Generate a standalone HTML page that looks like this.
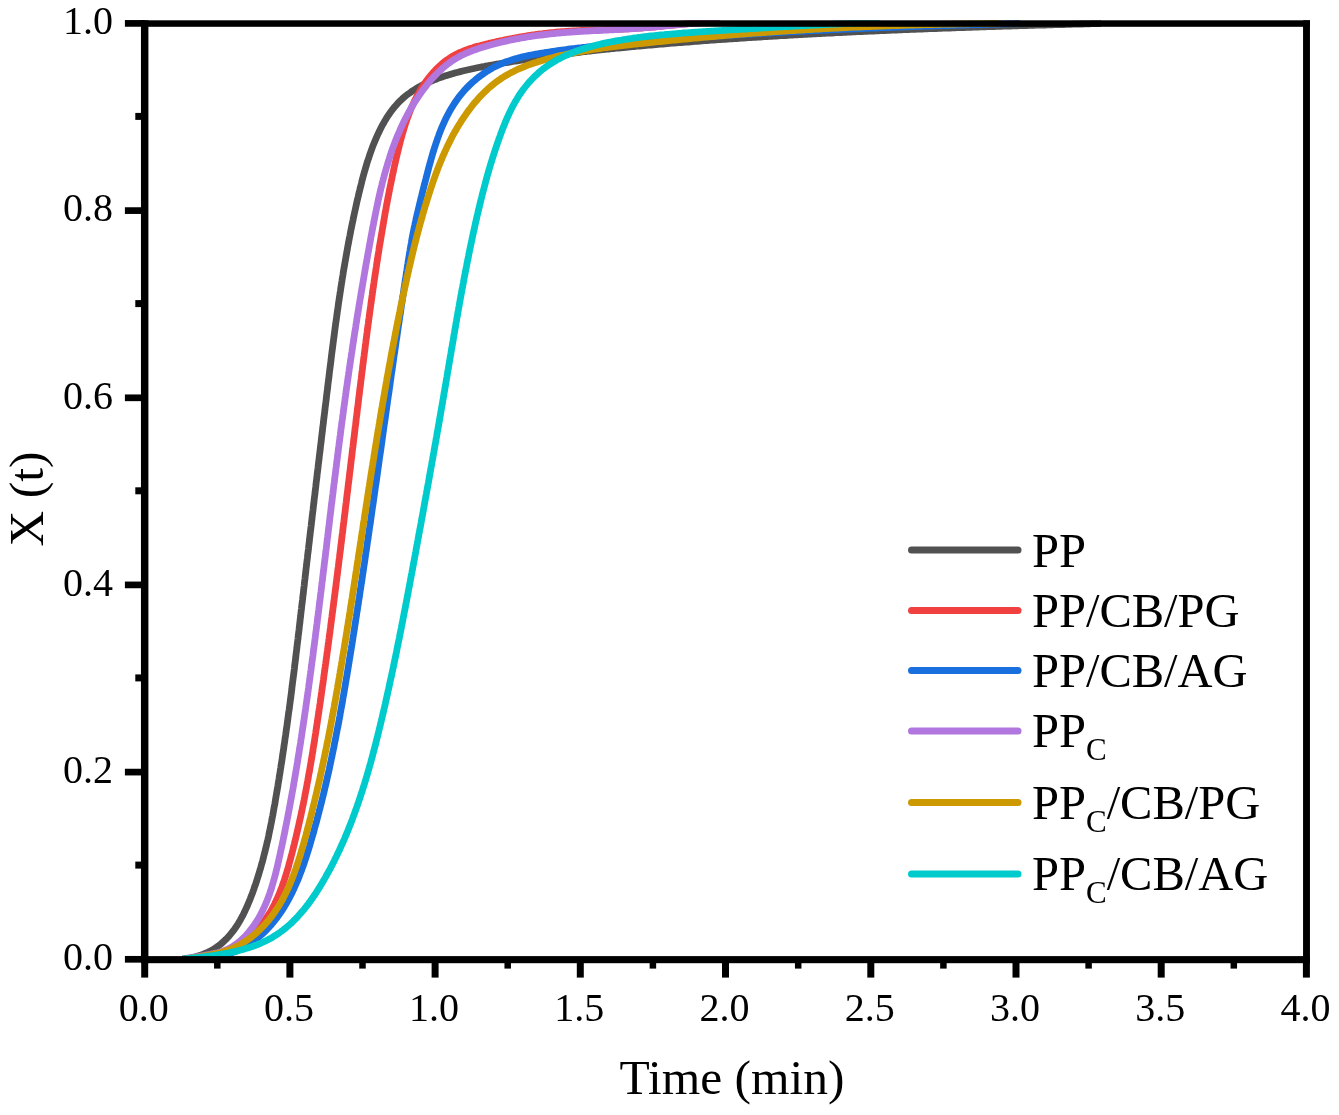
<!DOCTYPE html>
<html><head><meta charset="utf-8"><title>X(t) vs Time</title>
<style>
html,body{margin:0;padding:0;background:#fff;}
body{width:1339px;height:1115px;overflow:hidden;}
svg{display:block;}
text{font-family:"Liberation Serif","Times New Roman",serif;fill:#000;}
.tk{font-size:40px;}
.lg{font-size:48.5px;}
.sb{font-size:31px;}
.al{font-size:49.5px;}
</style></head><body>
<svg width="1339" height="1115" viewBox="0 0 1339 1115">
<rect width="1339" height="1115" fill="#fff"/>
<defs><clipPath id="plotclip"><rect x="140.95" y="20.3" width="1169" height="942.9"/></clipPath></defs>
<g id="curves" clip-path="url(#plotclip)">
<path d="M182.3 958.9 L185.1 958.6 L187.9 958.2 L190.5 957.8 L193.1 957.3 L195.6 956.7 L198.0 956.0 L200.4 955.3 L202.7 954.4 L205.0 953.5 L207.1 952.6 L209.3 951.5 L211.3 950.5 L213.3 949.3 L215.2 948.1 L217.1 946.8 L218.9 945.5 L220.7 944.1 L222.4 942.6 L224.1 941.1 L225.7 939.6 L227.2 938.0 L228.8 936.3 L230.2 934.6 L231.6 932.9 L233.0 931.1 L234.4 929.3 L235.7 927.5 L236.9 925.6 L238.1 923.7 L239.3 921.7 L240.5 919.7 L241.6 917.7 L242.7 915.7 L243.7 913.6 L244.7 911.5 L245.7 909.4 L246.7 907.3 L247.6 905.2 L248.5 903.0 L249.4 900.9 L250.3 898.7 L251.1 896.5 L252.0 894.3 L252.8 892.1 L253.6 889.9 L254.3 887.7 L255.1 885.5 L255.9 883.3 L256.6 881.0 L257.3 878.8 L258.0 876.6 L258.7 874.4 L259.4 872.1 L260.0 869.9 L260.7 867.7 L261.3 865.4 L261.9 863.2 L262.6 860.9 L263.2 858.7 L263.7 856.4 L264.3 854.2 L264.9 851.9 L265.4 849.7 L266.0 847.4 L266.5 845.2 L267.0 842.9 L267.6 840.6 L268.1 838.4 L268.6 836.1 L269.0 833.8 L269.5 831.5 L270.0 829.3 L270.5 827.0 L270.9 824.7 L271.4 822.4 L271.8 820.2 L272.2 817.9 L272.7 815.6 L273.1 813.3 L273.5 811.0 L273.9 808.7 L274.3 806.5 L274.8 804.2 L275.2 801.9 L275.5 799.6 L275.9 797.3 L276.3 795.0 L276.7 792.7 L277.1 790.4 L277.5 788.1 L277.9 785.8 L278.2 783.5 L278.6 781.3 L279.0 779.0 L279.3 776.7 L279.7 774.4 L280.1 772.1 L280.4 769.8 L280.8 767.5 L281.1 765.2 L281.5 762.9 L281.9 760.6 L282.2 758.3 L282.5 756.0 L282.9 753.7 L283.2 751.4 L283.6 749.1 L283.9 746.8 L284.2 744.5 L284.6 742.2 L284.9 739.9 L285.2 737.6 L285.6 735.3 L285.9 733.0 L286.2 730.7 L286.5 728.4 L286.9 726.1 L287.2 723.8 L287.5 721.5 L287.8 719.2 L288.1 716.9 L288.4 714.6 L288.7 712.3 L289.1 710.0 L289.4 707.7 L289.7 705.4 L290.0 703.1 L290.3 700.8 L290.6 698.5 L290.9 696.2 L291.2 693.9 L291.5 691.6 L291.8 689.3 L292.0 687.0 L292.3 684.7 L292.6 682.4 L292.9 680.1 L293.2 677.8 L293.5 675.5 L293.8 673.2 L294.1 670.9 L294.4 668.6 L294.6 666.3 L294.9 664.0 L295.2 661.7 L295.5 659.4 L295.8 657.0 L296.0 654.7 L296.3 652.4 L296.6 650.1 L296.9 647.8 L297.1 645.5 L297.4 643.2 L297.7 640.9 L298.0 638.6 L298.2 636.3 L298.5 634.0 L298.8 631.7 L299.1 629.4 L299.3 627.1 L299.6 624.8 L299.9 622.5 L300.1 620.2 L300.4 617.8 L300.7 615.5 L300.9 613.2 L301.2 610.9 L301.5 608.6 L301.7 606.3 L302.0 604.0 L302.3 601.7 L302.6 599.4 L302.8 597.1 L303.1 594.8 L303.4 592.5 L303.6 590.2 L303.9 587.9 L304.2 585.6 L304.4 583.2 L304.7 580.9 L305.0 578.6 L305.2 576.3 L305.5 574.0 L305.8 571.7 L306.0 569.4 L306.3 567.1 L306.6 564.8 L306.8 562.5 L307.1 560.2 L307.4 557.9 L307.6 555.6 L307.9 553.3 L308.2 551.0 L308.5 548.6 L308.7 546.3 L309.0 544.0 L309.3 541.7 L309.5 539.4 L309.8 537.1 L310.1 534.8 L310.3 532.5 L310.6 530.2 L310.9 527.9 L311.2 525.6 L311.4 523.3 L311.7 521.0 L312.0 518.7 L312.2 516.4 L312.5 514.1 L312.8 511.7 L313.1 509.4 L313.3 507.1 L313.6 504.8 L313.9 502.5 L314.1 500.2 L314.4 497.9 L314.7 495.6 L315.0 493.3 L315.2 491.0 L315.5 488.7 L315.8 486.4 L316.0 484.1 L316.3 481.8 L316.6 479.5 L316.9 477.2 L317.1 474.9 L317.4 472.5 L317.7 470.2 L318.0 467.9 L318.2 465.6 L318.5 463.3 L318.8 461.0 L319.1 458.7 L319.3 456.4 L319.6 454.1 L319.9 451.8 L320.2 449.5 L320.4 447.2 L320.7 444.9 L321.0 442.6 L321.3 440.3 L321.5 438.0 L321.8 435.6 L322.1 433.3 L322.4 431.0 L322.6 428.7 L322.9 426.4 L323.2 424.1 L323.5 421.8 L323.7 419.5 L324.0 417.2 L324.3 414.9 L324.6 412.6 L324.9 410.3 L325.1 408.0 L325.4 405.7 L325.7 403.4 L326.0 401.1 L326.3 398.8 L326.5 396.4 L326.8 394.1 L327.1 391.8 L327.4 389.5 L327.7 387.2 L327.9 384.9 L328.2 382.6 L328.5 380.3 L328.8 378.0 L329.1 375.7 L329.3 373.4 L329.6 371.1 L329.9 368.8 L330.2 366.5 L330.5 364.2 L330.8 361.9 L331.1 359.5 L331.3 357.2 L331.6 354.9 L331.9 352.6 L332.2 350.3 L332.5 348.0 L332.8 345.7 L333.1 343.4 L333.4 341.1 L333.7 338.8 L334.0 336.5 L334.3 334.2 L334.6 331.9 L334.9 329.6 L335.2 327.3 L335.5 325.0 L335.8 322.7 L336.2 320.4 L336.5 318.1 L336.8 315.8 L337.1 313.5 L337.4 311.2 L337.8 308.9 L338.1 306.6 L338.4 304.3 L338.7 302.0 L339.1 299.7 L339.4 297.4 L339.8 295.1 L340.1 292.8 L340.5 290.5 L340.8 288.2 L341.2 285.9 L341.5 283.6 L341.9 281.3 L342.2 279.1 L342.6 276.8 L343.0 274.5 L343.3 272.2 L343.7 269.9 L344.1 267.6 L344.5 265.3 L344.9 263.0 L345.3 260.7 L345.7 258.5 L346.1 256.2 L346.5 253.9 L346.9 251.6 L347.3 249.3 L347.7 247.0 L348.1 244.8 L348.6 242.5 L349.0 240.2 L349.4 237.9 L349.9 235.6 L350.3 233.4 L350.7 231.1 L351.2 228.8 L351.7 226.5 L352.1 224.3 L352.6 222.0 L353.1 219.7 L353.5 217.4 L354.0 215.2 L354.5 212.9 L355.0 210.6 L355.5 208.4 L356.0 206.1 L356.5 203.8 L357.0 201.6 L357.5 199.3 L358.1 197.0 L358.6 194.8 L359.1 192.5 L359.7 190.3 L360.2 188.0 L360.8 185.8 L361.4 183.5 L361.9 181.2 L362.5 179.0 L363.1 176.7 L363.7 174.5 L364.3 172.3 L365.0 170.0 L365.6 167.8 L366.3 165.6 L366.9 163.3 L367.6 161.1 L368.4 158.9 L369.1 156.7 L369.8 154.5 L370.6 152.3 L371.4 150.1 L372.2 147.9 L373.0 145.7 L373.9 143.5 L374.8 141.4 L375.7 139.2 L376.6 137.1 L377.6 134.9 L378.6 132.8 L379.6 130.7 L380.6 128.6 L381.7 126.5 L382.8 124.4 L384.0 122.4 L385.1 120.4 L386.3 118.4 L387.6 116.4 L388.9 114.5 L390.2 112.6 L391.6 110.7 L393.0 108.9 L394.4 107.1 L395.9 105.4 L397.4 103.7 L399.0 102.0 L400.6 100.4 L402.2 98.9 L403.9 97.4 L405.7 95.9 L407.4 94.5 L409.3 93.2 L411.1 91.9 L413.0 90.6 L415.0 89.4 L416.9 88.2 L418.9 87.0 L420.9 85.9 L423.0 84.9 L425.1 83.9 L427.2 82.9 L429.3 81.9 L431.4 81.0 L433.6 80.1 L435.8 79.3 L437.9 78.4 L440.2 77.6 L442.4 76.9 L444.6 76.1 L446.8 75.4 L449.1 74.7 L451.3 74.1 L453.5 73.4 L455.8 72.8 L458.0 72.2 L460.3 71.6 L462.6 71.0 L464.8 70.5 L467.1 70.0 L469.4 69.5 L471.6 69.0 L473.9 68.5 L476.2 68.0 L478.5 67.5 L480.8 67.1 L483.0 66.7 L485.3 66.2 L487.6 65.8 L489.9 65.4 L492.2 65.0 L494.5 64.6 L496.8 64.2 L499.1 63.8 L501.4 63.4 L503.6 63.0 L505.9 62.6 L508.2 62.3 L510.5 61.9 L512.8 61.5 L515.1 61.2 L517.4 60.8 L519.7 60.4 L522.0 60.1 L524.3 59.7 L526.6 59.4 L528.9 59.0 L531.2 58.7 L533.5 58.4 L535.8 58.0 L538.1 57.7 L540.4 57.4 L542.7 57.0 L545.0 56.7 L547.3 56.4 L549.6 56.1 L551.9 55.8 L554.2 55.5 L556.5 55.2 L558.8 54.9 L561.1 54.6 L563.4 54.3 L565.7 54.0 L568.0 53.7 L570.3 53.4 L572.6 53.1 L574.9 52.8 L577.2 52.6 L579.5 52.3 L581.8 52.0 L584.1 51.7 L586.4 51.5 L588.7 51.2 L591.0 51.0 L593.3 50.7 L595.6 50.4 L597.9 50.2 L600.3 49.9 L602.6 49.7 L604.9 49.4 L607.2 49.2 L609.5 49.0 L611.8 48.7 L614.1 48.5 L616.4 48.2 L618.7 48.0 L621.0 47.8 L623.3 47.6 L625.6 47.3 L628.0 47.1 L630.3 46.9 L632.6 46.7 L634.9 46.5 L637.2 46.2 L639.5 46.0 L641.8 45.8 L644.1 45.6 L646.4 45.4 L648.8 45.2 L651.1 45.0 L653.4 44.8 L655.7 44.6 L658.0 44.4 L660.3 44.2 L662.6 44.0 L664.9 43.8 L667.3 43.6 L669.6 43.4 L671.9 43.2 L674.2 43.0 L676.5 42.9 L678.8 42.7 L681.1 42.5 L683.5 42.3 L685.8 42.1 L688.1 42.0 L690.4 41.8 L692.7 41.6 L695.0 41.4 L697.4 41.3 L699.7 41.1 L702.0 40.9 L704.3 40.7 L706.6 40.6 L708.9 40.4 L711.2 40.2 L713.6 40.1 L715.9 39.9 L718.2 39.7 L720.5 39.6 L722.8 39.4 L725.1 39.3 L727.5 39.1 L729.8 38.9 L732.1 38.8 L734.4 38.6 L736.7 38.5 L739.0 38.3 L741.4 38.2 L743.7 38.0 L746.0 37.9 L748.3 37.7 L750.6 37.6 L752.9 37.4 L755.3 37.3 L757.6 37.1 L759.9 37.0 L762.2 36.8 L764.5 36.7 L766.9 36.6 L769.2 36.4 L771.5 36.3 L773.8 36.1 L776.1 36.0 L778.4 35.9 L780.8 35.7 L783.1 35.6 L785.4 35.5 L787.7 35.3 L790.0 35.2 L792.4 35.1 L794.7 34.9 L797.0 34.8 L799.3 34.7 L801.6 34.5 L803.9 34.4 L806.3 34.3 L808.6 34.2 L810.9 34.0 L813.2 33.9 L815.5 33.8 L817.9 33.7 L820.2 33.6 L822.5 33.4 L824.8 33.3 L827.1 33.2 L829.5 33.1 L831.8 33.0 L834.1 32.8 L836.4 32.7 L838.7 32.6 L841.1 32.5 L843.4 32.4 L845.7 32.3 L848.0 32.2 L850.3 32.1 L852.7 31.9 L855.0 31.8 L857.3 31.7 L859.6 31.6 L861.9 31.5 L864.3 31.4 L866.6 31.3 L868.9 31.2 L871.2 31.1 L873.5 31.0 L875.9 30.9 L878.2 30.8 L880.5 30.7 L882.8 30.6 L885.1 30.5 L887.5 30.4 L889.8 30.3 L892.1 30.2 L894.4 30.1 L896.7 30.0 L899.1 29.9 L901.4 29.8 L903.7 29.7 L906.0 29.6 L908.3 29.5 L910.7 29.4 L913.0 29.4 L915.3 29.3 L917.6 29.2 L920.0 29.1 L922.3 29.0 L924.6 28.9 L926.9 28.8 L929.2 28.7 L931.6 28.6 L933.9 28.6 L936.2 28.5 L938.5 28.4 L940.8 28.3 L943.2 28.2 L945.5 28.1 L947.8 28.1 L950.1 28.0 L952.4 27.9 L954.8 27.8 L957.1 27.7 L959.4 27.6 L961.7 27.6 L964.1 27.5 L966.4 27.4 L968.7 27.3 L971.0 27.3 L973.3 27.2 L975.7 27.1 L978.0 27.0 L980.3 26.9 L982.6 26.9 L984.9 26.8 L987.3 26.7 L989.6 26.6 L991.9 26.6 L994.2 26.5 L996.5 26.4 L998.9 26.4 L1001.2 26.3 L1003.5 26.2 L1005.8 26.1 L1008.2 26.1 L1010.5 26.0 L1012.8 25.9 L1015.1 25.9 L1017.4 25.8 L1019.8 25.7 L1022.1 25.7 L1024.4 25.6 L1026.7 25.5 L1029.0 25.4 L1031.4 25.4 L1033.7 25.3 L1036.0 25.2 L1038.3 25.2 L1040.6 25.1 L1043.0 25.1 L1045.3 25.0 L1047.6 24.9 L1049.9 24.9 L1052.2 24.8 L1054.6 24.7 L1056.9 24.7 L1059.2 24.6 L1061.5 24.5 L1063.9 24.5 L1066.2 24.4 L1068.5 24.3 L1070.8 24.3 L1073.1 24.2 L1075.5 24.2 L1077.8 24.1 L1080.1 24.0 L1082.4 24.0 L1084.7 23.9 L1087.1 23.9 L1089.4 23.8 L1091.7 23.7 L1094.0 23.7 L1096.3 23.6 L1098.7 23.6 L1101.0 23.5" fill="none" stroke="#515151" stroke-width="6.8" stroke-linejoin="round" stroke-linecap="butt"/>
<path d="M184.0 959.4 L185.8 959.1 L187.5 958.8 L189.3 958.5 L191.1 958.2 L192.9 957.9 L194.6 957.7 L196.4 957.4 L198.2 957.1 L200.0 956.9 L201.8 956.6 L203.6 956.3 L205.4 956.1 L207.2 955.8 L208.9 955.4 L210.7 955.1 L212.5 954.8 L214.2 954.4 L216.0 954.0 L217.7 953.5 L219.5 953.1 L221.2 952.6 L222.9 952.0 L224.6 951.4 L226.3 950.8 L228.0 950.1 L229.6 949.4 L231.2 948.7 L232.9 947.9 L234.5 947.0 L236.1 946.2 L237.6 945.3 L239.2 944.3 L240.7 943.3 L242.2 942.3 L243.7 941.3 L245.2 940.2 L246.6 939.1 L248.1 938.0 L249.5 936.8 L250.8 935.6 L252.2 934.4 L253.5 933.1 L254.8 931.9 L256.1 930.6 L257.3 929.3 L258.5 927.9 L259.7 926.6 L260.9 925.2 L262.0 923.8 L263.1 922.4 L264.2 921.0 L265.2 919.6 L266.2 918.1 L267.2 916.7 L268.2 915.2 L269.2 913.7 L270.1 912.2 L271.0 910.7 L271.9 909.1 L272.7 907.6 L273.6 906.0 L274.4 904.4 L275.2 902.8 L275.9 901.2 L276.7 899.6 L277.4 898.0 L278.1 896.4 L278.8 894.7 L279.5 893.1 L280.2 891.4 L280.8 889.7 L281.5 888.0 L282.1 886.4 L282.7 884.7 L283.3 883.0 L283.9 881.3 L284.5 879.5 L285.0 877.8 L285.6 876.1 L286.1 874.4 L286.6 872.6 L287.2 870.9 L287.7 869.2 L288.2 867.4 L288.7 865.7 L289.1 863.9 L289.6 862.2 L290.1 860.4 L290.6 858.6 L291.0 856.9 L291.5 855.1 L292.0 853.4 L292.4 851.6 L292.9 849.9 L293.3 848.1 L293.7 846.3 L294.2 844.6 L294.6 842.8 L295.0 841.0 L295.5 839.3 L295.9 837.5 L296.3 835.8 L296.7 834.0 L297.1 832.2 L297.5 830.5 L297.9 828.7 L298.3 826.9 L298.7 825.2 L299.1 823.4 L299.5 821.6 L299.9 819.9 L300.3 818.1 L300.7 816.4 L301.1 814.6 L301.4 812.8 L301.8 811.0 L302.2 809.3 L302.5 807.5 L302.9 805.7 L303.3 804.0 L303.6 802.2 L304.0 800.4 L304.3 798.7 L304.7 796.9 L305.0 795.1 L305.3 793.4 L305.7 791.6 L306.0 789.8 L306.4 788.0 L306.7 786.3 L307.0 784.5 L307.3 782.7 L307.7 780.9 L308.0 779.2 L308.3 777.4 L308.6 775.6 L308.9 773.8 L309.3 772.1 L309.6 770.3 L309.9 768.5 L310.2 766.7 L310.5 765.0 L310.8 763.2 L311.1 761.4 L311.4 759.6 L311.7 757.9 L312.0 756.1 L312.3 754.3 L312.6 752.5 L312.9 750.8 L313.1 749.0 L313.4 747.2 L313.7 745.4 L314.0 743.6 L314.3 741.9 L314.6 740.1 L314.8 738.3 L315.1 736.5 L315.4 734.7 L315.7 733.0 L315.9 731.2 L316.2 729.4 L316.5 727.6 L316.7 725.8 L317.0 724.1 L317.3 722.3 L317.5 720.5 L317.8 718.7 L318.1 716.9 L318.3 715.2 L318.6 713.4 L318.9 711.6 L319.1 709.8 L319.4 708.0 L319.6 706.3 L319.9 704.5 L320.2 702.7 L320.4 700.9 L320.7 699.1 L320.9 697.3 L321.2 695.6 L321.4 693.8 L321.7 692.0 L321.9 690.2 L322.2 688.4 L322.4 686.6 L322.7 684.9 L323.0 683.1 L323.2 681.3 L323.5 679.5 L323.7 677.7 L323.9 675.9 L324.2 674.2 L324.4 672.4 L324.7 670.6 L324.9 668.8 L325.2 667.0 L325.4 665.2 L325.7 663.5 L325.9 661.7 L326.2 659.9 L326.4 658.1 L326.7 656.3 L326.9 654.5 L327.1 652.7 L327.4 651.0 L327.6 649.2 L327.9 647.4 L328.1 645.6 L328.3 643.8 L328.6 642.0 L328.8 640.2 L329.1 638.5 L329.3 636.7 L329.5 634.9 L329.8 633.1 L330.0 631.3 L330.2 629.5 L330.5 627.7 L330.7 626.0 L330.9 624.2 L331.2 622.4 L331.4 620.6 L331.6 618.8 L331.9 617.0 L332.1 615.2 L332.3 613.4 L332.6 611.7 L332.8 609.9 L333.0 608.1 L333.3 606.3 L333.5 604.5 L333.7 602.7 L334.0 600.9 L334.2 599.1 L334.4 597.4 L334.6 595.6 L334.9 593.8 L335.1 592.0 L335.3 590.2 L335.6 588.4 L335.8 586.6 L336.0 584.8 L336.2 583.1 L336.5 581.3 L336.7 579.5 L336.9 577.7 L337.1 575.9 L337.4 574.1 L337.6 572.3 L337.8 570.5 L338.0 568.7 L338.3 567.0 L338.5 565.2 L338.7 563.4 L338.9 561.6 L339.1 559.8 L339.4 558.0 L339.6 556.2 L339.8 554.4 L340.0 552.6 L340.3 550.9 L340.5 549.1 L340.7 547.3 L340.9 545.5 L341.1 543.7 L341.4 541.9 L341.6 540.1 L341.8 538.3 L342.0 536.5 L342.2 534.8 L342.5 533.0 L342.7 531.2 L342.9 529.4 L343.1 527.6 L343.3 525.8 L343.5 524.0 L343.8 522.2 L344.0 520.4 L344.2 518.6 L344.4 516.9 L344.6 515.1 L344.9 513.3 L345.1 511.5 L345.3 509.7 L345.5 507.9 L345.7 506.1 L345.9 504.3 L346.2 502.5 L346.4 500.7 L346.6 499.0 L346.8 497.2 L347.0 495.4 L347.2 493.6 L347.5 491.8 L347.7 490.0 L347.9 488.2 L348.1 486.4 L348.3 484.6 L348.5 482.8 L348.8 481.1 L349.0 479.3 L349.2 477.5 L349.4 475.7 L349.6 473.9 L349.8 472.1 L350.1 470.3 L350.3 468.5 L350.5 466.7 L350.7 464.9 L350.9 463.1 L351.1 461.4 L351.3 459.6 L351.6 457.8 L351.8 456.0 L352.0 454.2 L352.2 452.4 L352.4 450.6 L352.6 448.8 L352.9 447.0 L353.1 445.2 L353.3 443.5 L353.5 441.7 L353.7 439.9 L353.9 438.1 L354.2 436.3 L354.4 434.5 L354.6 432.7 L354.8 430.9 L355.0 429.1 L355.2 427.3 L355.5 425.5 L355.7 423.8 L355.9 422.0 L356.1 420.2 L356.3 418.4 L356.5 416.6 L356.8 414.8 L357.0 413.0 L357.2 411.2 L357.4 409.4 L357.6 407.6 L357.9 405.9 L358.1 404.1 L358.3 402.3 L358.5 400.5 L358.7 398.7 L358.9 396.9 L359.2 395.1 L359.4 393.3 L359.6 391.5 L359.8 389.7 L360.0 387.9 L360.3 386.2 L360.5 384.4 L360.7 382.6 L360.9 380.8 L361.2 379.0 L361.4 377.2 L361.6 375.4 L361.8 373.6 L362.0 371.8 L362.3 370.0 L362.5 368.3 L362.7 366.5 L362.9 364.7 L363.2 362.9 L363.4 361.1 L363.6 359.3 L363.8 357.5 L364.1 355.7 L364.3 353.9 L364.5 352.2 L364.8 350.4 L365.0 348.6 L365.2 346.8 L365.4 345.0 L365.7 343.2 L365.9 341.4 L366.1 339.6 L366.4 337.8 L366.6 336.1 L366.8 334.3 L367.1 332.5 L367.3 330.7 L367.5 328.9 L367.8 327.1 L368.0 325.3 L368.3 323.5 L368.5 321.8 L368.7 320.0 L369.0 318.2 L369.2 316.4 L369.5 314.6 L369.7 312.8 L369.9 311.0 L370.2 309.3 L370.4 307.5 L370.7 305.7 L370.9 303.9 L371.2 302.1 L371.4 300.3 L371.7 298.6 L371.9 296.8 L372.2 295.0 L372.4 293.2 L372.7 291.4 L372.9 289.6 L373.2 287.9 L373.5 286.1 L373.7 284.3 L374.0 282.5 L374.2 280.7 L374.5 278.9 L374.8 277.2 L375.0 275.4 L375.3 273.6 L375.6 271.8 L375.8 270.0 L376.1 268.3 L376.4 266.5 L376.6 264.7 L376.9 262.9 L377.2 261.2 L377.5 259.4 L377.7 257.6 L378.0 255.8 L378.3 254.0 L378.6 252.3 L378.9 250.5 L379.1 248.7 L379.4 246.9 L379.7 245.2 L380.0 243.4 L380.3 241.6 L380.6 239.8 L380.9 238.1 L381.2 236.3 L381.5 234.5 L381.8 232.7 L382.1 231.0 L382.4 229.2 L382.7 227.4 L383.0 225.7 L383.3 223.9 L383.6 222.1 L383.9 220.3 L384.2 218.6 L384.5 216.8 L384.8 215.0 L385.1 213.3 L385.4 211.5 L385.8 209.7 L386.1 207.9 L386.4 206.2 L386.7 204.4 L387.1 202.6 L387.4 200.9 L387.7 199.1 L388.1 197.3 L388.4 195.6 L388.8 193.8 L389.1 192.0 L389.4 190.3 L389.8 188.5 L390.1 186.7 L390.5 185.0 L390.9 183.2 L391.2 181.4 L391.6 179.7 L392.0 177.9 L392.3 176.1 L392.7 174.3 L393.1 172.6 L393.5 170.8 L393.8 169.0 L394.2 167.3 L394.6 165.5 L395.0 163.7 L395.4 162.0 L395.8 160.2 L396.2 158.4 L396.6 156.7 L397.0 154.9 L397.5 153.1 L397.9 151.3 L398.3 149.6 L398.7 147.8 L399.2 146.0 L399.6 144.3 L400.1 142.5 L400.5 140.8 L401.0 139.0 L401.5 137.2 L402.0 135.5 L402.5 133.7 L403.0 132.0 L403.5 130.3 L404.0 128.5 L404.5 126.8 L405.1 125.1 L405.6 123.4 L406.2 121.6 L406.8 119.9 L407.4 118.2 L408.0 116.5 L408.6 114.8 L409.3 113.2 L409.9 111.5 L410.6 109.8 L411.3 108.2 L412.0 106.5 L412.7 104.9 L413.5 103.3 L414.2 101.6 L415.0 100.0 L415.8 98.4 L416.6 96.8 L417.5 95.3 L418.3 93.7 L419.2 92.1 L420.1 90.6 L421.0 89.0 L421.9 87.5 L422.9 86.0 L423.9 84.5 L424.9 83.0 L425.9 81.6 L427.0 80.1 L428.0 78.7 L429.2 77.3 L430.3 75.9 L431.4 74.5 L432.6 73.1 L433.8 71.8 L435.0 70.5 L436.3 69.2 L437.5 67.9 L438.8 66.7 L440.1 65.5 L441.5 64.3 L442.8 63.1 L444.2 62.0 L445.6 60.9 L447.1 59.9 L448.5 58.8 L450.0 57.9 L451.5 56.9 L453.0 56.0 L454.6 55.1 L456.2 54.3 L457.7 53.5 L459.4 52.7 L461.0 52.0 L462.7 51.3 L464.3 50.6 L466.0 50.0 L467.7 49.4 L469.4 48.8 L471.2 48.2 L472.9 47.7 L474.7 47.1 L476.4 46.6 L478.2 46.1 L479.9 45.7 L481.7 45.2 L483.5 44.7 L485.3 44.3 L487.1 43.9 L488.8 43.4 L490.6 43.0 L492.4 42.6 L494.2 42.2 L495.9 41.8 L497.7 41.4 L499.5 41.0 L501.3 40.6 L503.0 40.3 L504.8 39.9 L506.6 39.5 L508.4 39.2 L510.1 38.8 L511.9 38.5 L513.7 38.2 L515.5 37.8 L517.2 37.5 L519.0 37.2 L520.8 36.9 L522.5 36.6 L524.3 36.3 L526.1 36.0 L527.9 35.7 L529.6 35.5 L531.4 35.2 L533.2 34.9 L535.0 34.7 L536.7 34.4 L538.5 34.2 L540.3 34.0 L542.1 33.8 L543.9 33.5 L545.6 33.3 L547.4 33.1 L549.2 32.9 L551.0 32.7 L552.8 32.6 L554.6 32.4 L556.3 32.2 L558.1 32.0 L559.9 31.9 L561.7 31.7 L563.5 31.6 L565.3 31.5 L567.1 31.3 L568.9 31.2 L570.7 31.1 L572.5 31.0 L574.3 30.9 L576.1 30.8 L577.9 30.7 L579.7 30.6 L581.5 30.5 L583.3 30.4 L585.1 30.4 L586.9 30.3 L588.7 30.2 L590.5 30.2 L592.3 30.1 L594.1 30.0 L595.9 30.0 L597.7 29.9 L599.5 29.8 L601.3 29.8 L603.1 29.7 L604.9 29.7 L606.7 29.6 L608.6 29.5 L610.4 29.5 L612.2 29.4 L614.0 29.4 L615.8 29.3 L617.6 29.2 L619.4 29.2 L621.2 29.1 L623.0 29.0 L624.8 28.9 L626.6 28.8 L628.4 28.8 L630.2 28.7 L632.0 28.6 L633.8 28.5 L635.6 28.4 L637.4 28.2 L639.2 28.1 L641.0 28.0 L642.8 27.9 L644.6 27.7 L646.4 27.6 L648.2 27.4 L650.0 27.3 L651.8 27.1 L653.6 27.0 L655.4 26.8 L657.2 26.6 L658.9 26.4 L660.7 26.3 L662.5 26.1 L664.3 25.9 L666.1 25.7 L667.9 25.5 L669.7 25.4 L671.5 25.2 L673.3 25.0 L675.0 24.8 L676.8 24.6 L678.6 24.5 L680.4 24.3 L682.2 24.1 L684.0 24.0 L685.8 23.8 L687.6 23.7 L689.4 23.5 L691.2 23.4 L692.9 23.2 L694.7 23.1 L696.5 23.0 L698.3 22.9 L700.1 22.8 L701.9 22.7 L703.7 22.6 L705.5 22.6 L707.3 22.5 L709.1 22.4 L711.0 22.4 L712.8 22.4 L714.6 22.4 L716.4 22.4 L718.2 22.4 L720.0 22.4" fill="none" stroke="#F14040" stroke-width="6.8" stroke-linejoin="round" stroke-linecap="butt"/>
<path d="M183.9 958.8 L186.0 958.7 L188.2 958.6 L190.4 958.4 L192.6 958.3 L194.8 958.2 L197.0 958.1 L199.2 958.0 L201.4 957.8 L203.6 957.7 L205.8 957.5 L208.0 957.3 L210.3 957.1 L212.5 956.8 L214.7 956.6 L216.9 956.3 L219.0 955.9 L221.2 955.5 L223.4 955.1 L225.5 954.6 L227.6 954.1 L229.7 953.5 L231.8 952.8 L233.8 952.1 L235.9 951.3 L237.9 950.4 L239.8 949.5 L241.8 948.6 L243.7 947.6 L245.6 946.5 L247.5 945.4 L249.3 944.2 L251.1 943.0 L252.9 941.7 L254.7 940.4 L256.4 939.1 L258.1 937.7 L259.7 936.3 L261.4 934.8 L263.0 933.4 L264.6 931.8 L266.1 930.3 L267.6 928.7 L269.1 927.1 L270.6 925.5 L272.0 923.8 L273.4 922.2 L274.7 920.5 L276.1 918.8 L277.4 917.1 L278.7 915.3 L279.9 913.6 L281.1 911.8 L282.3 910.0 L283.5 908.2 L284.6 906.3 L285.7 904.5 L286.8 902.6 L287.8 900.7 L288.9 898.8 L289.9 896.9 L290.9 895.0 L291.9 893.1 L292.8 891.1 L293.7 889.2 L294.6 887.2 L295.5 885.2 L296.4 883.2 L297.3 881.2 L298.1 879.2 L298.9 877.2 L299.7 875.1 L300.5 873.1 L301.3 871.1 L302.0 869.0 L302.8 866.9 L303.5 864.9 L304.2 862.8 L304.9 860.7 L305.6 858.6 L306.3 856.5 L307.0 854.4 L307.6 852.3 L308.3 850.2 L308.9 848.1 L309.6 846.0 L310.2 843.9 L310.8 841.8 L311.4 839.6 L312.0 837.5 L312.7 835.4 L313.3 833.3 L313.9 831.2 L314.4 829.0 L315.0 826.9 L315.6 824.8 L316.2 822.7 L316.8 820.6 L317.3 818.4 L317.9 816.3 L318.4 814.2 L319.0 812.1 L319.5 809.9 L320.1 807.8 L320.6 805.7 L321.2 803.5 L321.7 801.4 L322.2 799.3 L322.7 797.2 L323.3 795.0 L323.8 792.9 L324.3 790.8 L324.8 788.6 L325.3 786.5 L325.8 784.4 L326.3 782.2 L326.8 780.1 L327.2 778.0 L327.7 775.8 L328.2 773.7 L328.7 771.6 L329.2 769.4 L329.6 767.3 L330.1 765.1 L330.5 763.0 L331.0 760.9 L331.4 758.7 L331.9 756.6 L332.3 754.4 L332.8 752.3 L333.2 750.2 L333.7 748.0 L334.1 745.9 L334.5 743.7 L334.9 741.6 L335.4 739.5 L335.8 737.3 L336.2 735.2 L336.6 733.0 L337.0 730.9 L337.4 728.7 L337.9 726.6 L338.3 724.4 L338.7 722.3 L339.1 720.1 L339.5 718.0 L339.9 715.8 L340.2 713.7 L340.6 711.6 L341.0 709.4 L341.4 707.3 L341.8 705.1 L342.2 703.0 L342.6 700.8 L342.9 698.7 L343.3 696.5 L343.7 694.4 L344.1 692.2 L344.4 690.1 L344.8 687.9 L345.2 685.7 L345.5 683.6 L345.9 681.4 L346.2 679.3 L346.6 677.1 L347.0 675.0 L347.3 672.8 L347.7 670.7 L348.0 668.5 L348.4 666.4 L348.7 664.2 L349.1 662.1 L349.4 659.9 L349.8 657.7 L350.1 655.6 L350.5 653.4 L350.8 651.3 L351.2 649.1 L351.5 647.0 L351.9 644.8 L352.2 642.7 L352.6 640.5 L352.9 638.3 L353.2 636.2 L353.6 634.0 L353.9 631.9 L354.3 629.7 L354.6 627.6 L354.9 625.4 L355.3 623.2 L355.6 621.1 L355.9 618.9 L356.3 616.8 L356.6 614.6 L356.9 612.4 L357.3 610.3 L357.6 608.1 L357.9 606.0 L358.3 603.8 L358.6 601.6 L358.9 599.5 L359.3 597.3 L359.6 595.2 L359.9 593.0 L360.2 590.8 L360.6 588.7 L360.9 586.5 L361.2 584.4 L361.6 582.2 L361.9 580.0 L362.2 577.9 L362.5 575.7 L362.8 573.6 L363.2 571.4 L363.5 569.2 L363.8 567.1 L364.1 564.9 L364.5 562.8 L364.8 560.6 L365.1 558.4 L365.4 556.3 L365.7 554.1 L366.0 551.9 L366.4 549.8 L366.7 547.6 L367.0 545.5 L367.3 543.3 L367.6 541.1 L368.0 539.0 L368.3 536.8 L368.6 534.6 L368.9 532.5 L369.2 530.3 L369.5 528.1 L369.8 526.0 L370.2 523.8 L370.5 521.7 L370.8 519.5 L371.1 517.3 L371.4 515.2 L371.7 513.0 L372.0 510.8 L372.3 508.7 L372.6 506.5 L373.0 504.3 L373.3 502.2 L373.6 500.0 L373.9 497.8 L374.2 495.7 L374.5 493.5 L374.8 491.4 L375.1 489.2 L375.4 487.0 L375.7 484.9 L376.1 482.7 L376.4 480.5 L376.7 478.4 L377.0 476.2 L377.3 474.0 L377.6 471.9 L377.9 469.7 L378.2 467.5 L378.5 465.4 L378.8 463.2 L379.1 461.0 L379.4 458.9 L379.7 456.7 L380.0 454.5 L380.4 452.4 L380.7 450.2 L381.0 448.0 L381.3 445.9 L381.6 443.7 L381.9 441.6 L382.2 439.4 L382.5 437.2 L382.8 435.1 L383.1 432.9 L383.4 430.7 L383.7 428.6 L384.0 426.4 L384.3 424.2 L384.7 422.1 L385.0 419.9 L385.3 417.7 L385.6 415.6 L385.9 413.4 L386.2 411.2 L386.5 409.1 L386.8 406.9 L387.1 404.7 L387.4 402.6 L387.7 400.4 L388.0 398.2 L388.3 396.1 L388.7 393.9 L389.0 391.7 L389.3 389.6 L389.6 387.4 L389.9 385.2 L390.2 383.1 L390.5 380.9 L390.8 378.7 L391.1 376.6 L391.4 374.4 L391.7 372.2 L392.1 370.1 L392.4 367.9 L392.7 365.7 L393.0 363.6 L393.3 361.4 L393.6 359.3 L393.9 357.1 L394.2 354.9 L394.6 352.8 L394.9 350.6 L395.2 348.4 L395.5 346.3 L395.8 344.1 L396.1 341.9 L396.4 339.8 L396.8 337.6 L397.1 335.4 L397.4 333.3 L397.7 331.1 L398.0 328.9 L398.3 326.8 L398.7 324.6 L399.0 322.4 L399.3 320.3 L399.6 318.1 L399.9 316.0 L400.3 313.8 L400.6 311.6 L400.9 309.5 L401.2 307.3 L401.5 305.1 L401.9 303.0 L402.2 300.8 L402.5 298.6 L402.8 296.5 L403.2 294.3 L403.5 292.2 L403.8 290.0 L404.1 287.8 L404.5 285.7 L404.8 283.5 L405.1 281.3 L405.4 279.2 L405.8 277.0 L406.1 274.9 L406.4 272.7 L406.8 270.5 L407.1 268.4 L407.4 266.2 L407.8 264.0 L408.1 261.9 L408.5 259.7 L408.8 257.6 L409.2 255.4 L409.5 253.3 L409.9 251.1 L410.2 249.0 L410.6 246.8 L411.0 244.7 L411.4 242.5 L411.7 240.4 L412.1 238.2 L412.5 236.1 L412.9 234.0 L413.4 231.8 L413.8 229.7 L414.2 227.6 L414.7 225.5 L415.1 223.4 L415.6 221.2 L416.0 219.1 L416.5 217.0 L417.0 214.9 L417.5 212.8 L418.0 210.7 L418.5 208.6 L419.0 206.5 L419.5 204.4 L420.0 202.3 L420.5 200.2 L421.0 198.0 L421.6 195.9 L422.1 193.8 L422.6 191.7 L423.1 189.6 L423.7 187.5 L424.2 185.3 L424.8 183.2 L425.3 181.1 L425.9 178.9 L426.4 176.8 L427.0 174.7 L427.5 172.5 L428.1 170.4 L428.6 168.2 L429.2 166.1 L429.8 163.9 L430.4 161.8 L431.0 159.6 L431.6 157.5 L432.2 155.4 L432.8 153.2 L433.5 151.1 L434.1 149.0 L434.8 146.9 L435.5 144.7 L436.2 142.6 L436.9 140.6 L437.6 138.5 L438.4 136.4 L439.1 134.3 L439.9 132.3 L440.7 130.2 L441.5 128.2 L442.4 126.2 L443.3 124.2 L444.2 122.2 L445.1 120.2 L446.0 118.3 L447.0 116.3 L448.0 114.4 L449.0 112.5 L450.0 110.6 L451.1 108.7 L452.2 106.9 L453.4 105.1 L454.5 103.3 L455.7 101.5 L457.0 99.7 L458.2 98.0 L459.5 96.2 L460.9 94.6 L462.3 92.9 L463.7 91.2 L465.1 89.6 L466.6 88.0 L468.1 86.5 L469.6 85.0 L471.2 83.5 L472.8 82.0 L474.5 80.6 L476.1 79.2 L477.8 77.8 L479.5 76.5 L481.3 75.2 L483.1 73.9 L484.9 72.7 L486.7 71.5 L488.6 70.3 L490.4 69.2 L492.3 68.1 L494.2 67.1 L496.2 66.1 L498.1 65.2 L500.1 64.3 L502.1 63.4 L504.1 62.6 L506.2 61.8 L508.2 61.1 L510.3 60.4 L512.3 59.7 L514.4 59.1 L516.5 58.5 L518.6 57.9 L520.7 57.4 L522.9 56.8 L525.0 56.3 L527.1 55.9 L529.3 55.4 L531.5 55.0 L533.6 54.6 L535.8 54.2 L538.0 53.8 L540.1 53.4 L542.3 53.0 L544.5 52.7 L546.7 52.3 L548.8 52.0 L551.0 51.7 L553.2 51.3 L555.4 51.0 L557.5 50.7 L559.7 50.4 L561.9 50.1 L564.1 49.8 L566.3 49.5 L568.4 49.2 L570.6 48.9 L572.8 48.6 L574.9 48.4 L577.1 48.1 L579.3 47.8 L581.5 47.6 L583.6 47.3 L585.8 47.1 L588.0 46.8 L590.2 46.6 L592.3 46.3 L594.5 46.1 L596.7 45.9 L598.9 45.6 L601.0 45.4 L603.2 45.2 L605.4 45.0 L607.6 44.8 L609.7 44.5 L611.9 44.3 L614.1 44.1 L616.2 43.9 L618.4 43.7 L620.6 43.5 L622.8 43.3 L624.9 43.1 L627.1 42.9 L629.3 42.7 L631.5 42.6 L633.6 42.4 L635.8 42.2 L638.0 42.0 L640.2 41.8 L642.3 41.6 L644.5 41.5 L646.7 41.3 L648.9 41.1 L651.0 40.9 L653.2 40.7 L655.4 40.6 L657.6 40.4 L659.7 40.2 L661.9 40.1 L664.1 39.9 L666.3 39.7 L668.4 39.5 L670.6 39.4 L672.8 39.2 L675.0 39.1 L677.2 38.9 L679.3 38.7 L681.5 38.6 L683.7 38.4 L685.9 38.2 L688.0 38.1 L690.2 37.9 L692.4 37.8 L694.6 37.6 L696.8 37.5 L698.9 37.3 L701.1 37.2 L703.3 37.0 L705.5 36.9 L707.7 36.7 L709.8 36.6 L712.0 36.4 L714.2 36.3 L716.4 36.1 L718.6 36.0 L720.7 35.9 L722.9 35.7 L725.1 35.6 L727.3 35.4 L729.5 35.3 L731.6 35.2 L733.8 35.0 L736.0 34.9 L738.2 34.8 L740.4 34.6 L742.6 34.5 L744.7 34.4 L746.9 34.2 L749.1 34.1 L751.3 34.0 L753.5 33.8 L755.7 33.7 L757.8 33.6 L760.0 33.5 L762.2 33.3 L764.4 33.2 L766.6 33.1 L768.7 33.0 L770.9 32.8 L773.1 32.7 L775.3 32.6 L777.5 32.5 L779.7 32.4 L781.9 32.3 L784.0 32.1 L786.2 32.0 L788.4 31.9 L790.6 31.8 L792.8 31.7 L795.0 31.6 L797.1 31.5 L799.3 31.4 L801.5 31.2 L803.7 31.1 L805.9 31.0 L808.1 30.9 L810.2 30.8 L812.4 30.7 L814.6 30.6 L816.8 30.5 L819.0 30.4 L821.2 30.3 L823.4 30.2 L825.5 30.1 L827.7 30.0 L829.9 29.9 L832.1 29.8 L834.3 29.7 L836.5 29.6 L838.7 29.5 L840.8 29.4 L843.0 29.3 L845.2 29.2 L847.4 29.1 L849.6 29.0 L851.8 28.9 L853.9 28.9 L856.1 28.8 L858.3 28.7 L860.5 28.6 L862.7 28.5 L864.9 28.4 L867.1 28.3 L869.2 28.2 L871.4 28.1 L873.6 28.1 L875.8 28.0 L878.0 27.9 L880.2 27.8 L882.4 27.7 L884.5 27.6 L886.7 27.6 L888.9 27.5 L891.1 27.4 L893.3 27.3 L895.5 27.2 L897.7 27.2 L899.8 27.1 L902.0 27.0 L904.2 26.9 L906.4 26.8 L908.6 26.8 L910.8 26.7 L913.0 26.6 L915.1 26.5 L917.3 26.5 L919.5 26.4 L921.7 26.3 L923.9 26.2 L926.1 26.2 L928.2 26.1 L930.4 26.0 L932.6 25.9 L934.8 25.9 L937.0 25.8 L939.2 25.7 L941.4 25.7 L943.5 25.6 L945.7 25.5 L947.9 25.5 L950.1 25.4 L952.3 25.3 L954.5 25.3 L956.6 25.2 L958.8 25.1 L961.0 25.1 L963.2 25.0 L965.4 24.9 L967.6 24.9 L969.7 24.8 L971.9 24.7 L974.1 24.7 L976.3 24.6 L978.5 24.5 L980.7 24.5 L982.8 24.4 L985.0 24.4 L987.2 24.3 L989.4 24.2 L991.6 24.2 L993.8 24.1 L995.9 24.0 L998.1 24.0 L1000.3 23.9 L1002.5 23.9 L1004.7 23.8 L1006.9 23.7 L1009.0 23.7 L1011.2 23.6 L1013.4 23.6 L1015.6 23.5 L1017.8 23.5 L1019.9 23.4" fill="none" stroke="#1A6FDF" stroke-width="6.8" stroke-linejoin="round" stroke-linecap="butt"/>
<path d="M184.2 959.8 L185.8 959.3 L187.4 958.8 L189.1 958.3 L190.8 957.9 L192.5 957.5 L194.3 957.1 L196.0 956.8 L197.8 956.5 L199.6 956.2 L201.4 955.9 L203.2 955.6 L205.0 955.2 L206.9 954.9 L208.7 954.6 L210.5 954.3 L212.3 953.9 L214.1 953.6 L215.9 953.1 L217.6 952.7 L219.4 952.2 L221.1 951.7 L222.8 951.1 L224.5 950.5 L226.2 949.8 L227.8 949.1 L229.4 948.3 L230.9 947.5 L232.5 946.6 L234.0 945.6 L235.4 944.6 L236.9 943.6 L238.3 942.5 L239.7 941.4 L241.0 940.2 L242.3 939.0 L243.6 937.8 L244.9 936.5 L246.1 935.2 L247.3 933.9 L248.5 932.5 L249.6 931.1 L250.7 929.7 L251.8 928.3 L252.9 926.9 L253.9 925.4 L254.9 924.0 L255.9 922.5 L256.9 921.0 L257.8 919.5 L258.7 918.0 L259.6 916.5 L260.4 914.9 L261.2 913.4 L262.0 911.8 L262.8 910.2 L263.6 908.6 L264.3 907.0 L265.0 905.4 L265.7 903.8 L266.4 902.1 L267.1 900.5 L267.7 898.8 L268.4 897.2 L269.0 895.5 L269.6 893.8 L270.1 892.2 L270.7 890.5 L271.3 888.8 L271.8 887.0 L272.3 885.3 L272.8 883.6 L273.3 881.9 L273.8 880.2 L274.3 878.4 L274.8 876.7 L275.2 874.9 L275.7 873.2 L276.1 871.4 L276.5 869.7 L277.0 867.9 L277.4 866.2 L277.8 864.4 L278.2 862.6 L278.6 860.9 L279.0 859.1 L279.4 857.3 L279.8 855.6 L280.2 853.8 L280.5 852.0 L280.9 850.3 L281.3 848.5 L281.7 846.7 L282.1 845.0 L282.4 843.2 L282.8 841.4 L283.2 839.7 L283.5 837.9 L283.9 836.1 L284.3 834.4 L284.6 832.6 L285.0 830.8 L285.3 829.1 L285.7 827.3 L286.0 825.5 L286.4 823.8 L286.7 822.0 L287.1 820.2 L287.4 818.5 L287.8 816.7 L288.1 814.9 L288.4 813.2 L288.8 811.4 L289.1 809.6 L289.4 807.9 L289.8 806.1 L290.1 804.3 L290.4 802.6 L290.7 800.8 L291.1 799.0 L291.4 797.3 L291.7 795.5 L292.0 793.8 L292.3 792.0 L292.7 790.2 L293.0 788.5 L293.3 786.7 L293.6 784.9 L293.9 783.2 L294.2 781.4 L294.5 779.6 L294.8 777.9 L295.1 776.1 L295.4 774.3 L295.7 772.6 L296.0 770.8 L296.3 769.0 L296.6 767.3 L296.9 765.5 L297.2 763.7 L297.5 762.0 L297.7 760.2 L298.0 758.4 L298.3 756.7 L298.6 754.9 L298.9 753.1 L299.2 751.4 L299.4 749.6 L299.7 747.8 L300.0 746.1 L300.3 744.3 L300.6 742.5 L300.8 740.8 L301.1 739.0 L301.4 737.2 L301.6 735.5 L301.9 733.7 L302.2 731.9 L302.4 730.2 L302.7 728.4 L303.0 726.6 L303.2 724.9 L303.5 723.1 L303.8 721.3 L304.0 719.6 L304.3 717.8 L304.5 716.0 L304.8 714.3 L305.0 712.5 L305.3 710.7 L305.6 709.0 L305.8 707.2 L306.1 705.4 L306.3 703.6 L306.6 701.9 L306.8 700.1 L307.1 698.3 L307.3 696.6 L307.6 694.8 L307.8 693.0 L308.1 691.2 L308.3 689.5 L308.6 687.7 L308.8 685.9 L309.0 684.1 L309.3 682.4 L309.5 680.6 L309.8 678.8 L310.0 677.1 L310.2 675.3 L310.5 673.5 L310.7 671.7 L311.0 670.0 L311.2 668.2 L311.4 666.4 L311.7 664.6 L311.9 662.9 L312.1 661.1 L312.4 659.3 L312.6 657.5 L312.9 655.7 L313.1 654.0 L313.3 652.2 L313.5 650.4 L313.8 648.6 L314.0 646.9 L314.2 645.1 L314.5 643.3 L314.7 641.5 L314.9 639.8 L315.2 638.0 L315.4 636.2 L315.6 634.4 L315.8 632.6 L316.1 630.9 L316.3 629.1 L316.5 627.3 L316.7 625.5 L317.0 623.7 L317.2 622.0 L317.4 620.2 L317.6 618.4 L317.9 616.6 L318.1 614.9 L318.3 613.1 L318.5 611.3 L318.8 609.5 L319.0 607.7 L319.2 606.0 L319.4 604.2 L319.6 602.4 L319.9 600.6 L320.1 598.8 L320.3 597.1 L320.5 595.3 L320.7 593.5 L321.0 591.7 L321.2 589.9 L321.4 588.1 L321.6 586.4 L321.8 584.6 L322.0 582.8 L322.3 581.0 L322.5 579.2 L322.7 577.5 L322.9 575.7 L323.1 573.9 L323.3 572.1 L323.6 570.3 L323.8 568.6 L324.0 566.8 L324.2 565.0 L324.4 563.2 L324.6 561.4 L324.9 559.6 L325.1 557.9 L325.3 556.1 L325.5 554.3 L325.7 552.5 L325.9 550.7 L326.2 549.0 L326.4 547.2 L326.6 545.4 L326.8 543.6 L327.0 541.8 L327.2 540.0 L327.4 538.3 L327.7 536.5 L327.9 534.7 L328.1 532.9 L328.3 531.1 L328.5 529.4 L328.7 527.6 L329.0 525.8 L329.2 524.0 L329.4 522.2 L329.6 520.4 L329.8 518.7 L330.0 516.9 L330.2 515.1 L330.5 513.3 L330.7 511.5 L330.9 509.8 L331.1 508.0 L331.3 506.2 L331.5 504.4 L331.8 502.6 L332.0 500.9 L332.2 499.1 L332.4 497.3 L332.6 495.5 L332.9 493.7 L333.1 491.9 L333.3 490.2 L333.5 488.4 L333.7 486.6 L333.9 484.8 L334.2 483.0 L334.4 481.3 L334.6 479.5 L334.8 477.7 L335.1 475.9 L335.3 474.1 L335.5 472.4 L335.7 470.6 L335.9 468.8 L336.2 467.0 L336.4 465.2 L336.6 463.5 L336.8 461.7 L337.1 459.9 L337.3 458.1 L337.5 456.4 L337.7 454.6 L338.0 452.8 L338.2 451.0 L338.4 449.2 L338.6 447.5 L338.9 445.7 L339.1 443.9 L339.3 442.1 L339.6 440.4 L339.8 438.6 L340.0 436.8 L340.3 435.0 L340.5 433.2 L340.7 431.5 L340.9 429.7 L341.2 427.9 L341.4 426.1 L341.6 424.4 L341.9 422.6 L342.1 420.8 L342.4 419.0 L342.6 417.3 L342.8 415.5 L343.1 413.7 L343.3 411.9 L343.5 410.2 L343.8 408.4 L344.0 406.6 L344.3 404.8 L344.5 403.1 L344.8 401.3 L345.0 399.5 L345.2 397.8 L345.5 396.0 L345.7 394.2 L346.0 392.4 L346.2 390.7 L346.5 388.9 L346.7 387.1 L347.0 385.4 L347.2 383.6 L347.5 381.8 L347.7 380.0 L348.0 378.3 L348.2 376.5 L348.5 374.7 L348.7 373.0 L349.0 371.2 L349.2 369.4 L349.5 367.7 L349.8 365.9 L350.0 364.1 L350.3 362.3 L350.5 360.6 L350.8 358.8 L351.1 357.0 L351.3 355.3 L351.6 353.5 L351.9 351.7 L352.1 350.0 L352.4 348.2 L352.7 346.4 L352.9 344.7 L353.2 342.9 L353.5 341.1 L353.7 339.4 L354.0 337.6 L354.3 335.8 L354.5 334.1 L354.8 332.3 L355.1 330.5 L355.4 328.8 L355.7 327.0 L355.9 325.2 L356.2 323.5 L356.5 321.7 L356.8 319.9 L357.0 318.2 L357.3 316.4 L357.6 314.6 L357.9 312.9 L358.2 311.1 L358.5 309.3 L358.8 307.6 L359.0 305.8 L359.3 304.0 L359.6 302.3 L359.9 300.5 L360.2 298.7 L360.5 297.0 L360.8 295.2 L361.1 293.4 L361.4 291.7 L361.7 289.9 L362.0 288.1 L362.3 286.4 L362.6 284.6 L362.9 282.8 L363.2 281.0 L363.5 279.3 L363.8 277.5 L364.1 275.7 L364.4 274.0 L364.7 272.2 L365.0 270.4 L365.3 268.7 L365.6 266.9 L365.9 265.1 L366.2 263.4 L366.6 261.6 L366.9 259.8 L367.2 258.1 L367.5 256.3 L367.8 254.5 L368.1 252.7 L368.5 251.0 L368.8 249.2 L369.1 247.4 L369.4 245.7 L369.7 243.9 L370.1 242.1 L370.4 240.3 L370.7 238.6 L371.0 236.8 L371.4 235.0 L371.7 233.3 L372.0 231.5 L372.4 229.7 L372.7 227.9 L373.0 226.2 L373.4 224.4 L373.7 222.6 L374.1 220.8 L374.4 219.1 L374.8 217.3 L375.1 215.5 L375.5 213.8 L375.8 212.0 L376.2 210.2 L376.5 208.5 L376.9 206.7 L377.3 204.9 L377.7 203.2 L378.0 201.4 L378.4 199.6 L378.8 197.9 L379.2 196.1 L379.6 194.4 L380.0 192.6 L380.4 190.9 L380.8 189.1 L381.2 187.4 L381.7 185.6 L382.1 183.9 L382.5 182.1 L383.0 180.4 L383.4 178.7 L383.9 176.9 L384.3 175.2 L384.8 173.5 L385.3 171.7 L385.8 170.0 L386.3 168.3 L386.8 166.6 L387.3 164.9 L387.8 163.2 L388.3 161.5 L388.9 159.8 L389.4 158.1 L389.9 156.4 L390.5 154.7 L391.1 153.0 L391.6 151.3 L392.2 149.6 L392.8 147.9 L393.4 146.3 L394.1 144.6 L394.7 142.9 L395.3 141.3 L396.0 139.6 L396.6 138.0 L397.3 136.3 L398.0 134.7 L398.7 133.1 L399.4 131.5 L400.1 129.8 L400.8 128.2 L401.5 126.6 L402.3 125.0 L403.0 123.4 L403.8 121.8 L404.6 120.2 L405.4 118.6 L406.2 117.0 L407.0 115.5 L407.9 113.9 L408.7 112.3 L409.6 110.8 L410.5 109.2 L411.3 107.7 L412.2 106.2 L413.2 104.6 L414.1 103.1 L415.0 101.6 L416.0 100.1 L417.0 98.6 L418.0 97.1 L419.0 95.6 L420.0 94.1 L421.1 92.7 L422.1 91.2 L423.2 89.7 L424.3 88.3 L425.4 86.9 L426.5 85.4 L427.6 84.0 L428.8 82.6 L429.9 81.2 L431.1 79.8 L432.3 78.5 L433.6 77.1 L434.8 75.8 L436.1 74.5 L437.3 73.2 L438.6 71.9 L439.9 70.7 L441.3 69.4 L442.6 68.2 L444.0 67.1 L445.3 65.9 L446.7 64.8 L448.2 63.7 L449.6 62.6 L451.1 61.6 L452.5 60.6 L454.0 59.6 L455.6 58.7 L457.1 57.8 L458.6 56.9 L460.2 56.1 L461.8 55.3 L463.4 54.5 L465.0 53.8 L466.6 53.0 L468.3 52.3 L469.9 51.7 L471.6 51.0 L473.3 50.4 L474.9 49.8 L476.6 49.2 L478.3 48.6 L480.0 48.0 L481.8 47.5 L483.5 47.0 L485.2 46.4 L486.9 45.9 L488.6 45.4 L490.4 45.0 L492.1 44.5 L493.8 44.0 L495.6 43.6 L497.3 43.1 L499.0 42.7 L500.8 42.3 L502.5 41.9 L504.3 41.5 L506.0 41.1 L507.8 40.7 L509.5 40.3 L511.3 39.9 L513.0 39.6 L514.8 39.2 L516.6 38.9 L518.3 38.6 L520.1 38.2 L521.8 37.9 L523.6 37.6 L525.4 37.3 L527.1 37.0 L528.9 36.7 L530.7 36.5 L532.5 36.2 L534.2 35.9 L536.0 35.7 L537.8 35.4 L539.6 35.2 L541.3 35.0 L543.1 34.8 L544.9 34.5 L546.7 34.3 L548.5 34.1 L550.2 33.9 L552.0 33.7 L553.8 33.6 L555.6 33.4 L557.4 33.2 L559.2 33.0 L561.0 32.9 L562.7 32.7 L564.5 32.6 L566.3 32.4 L568.1 32.3 L569.9 32.2 L571.7 32.0 L573.5 31.9 L575.3 31.8 L577.0 31.7 L578.8 31.5 L580.6 31.4 L582.4 31.3 L584.2 31.2 L586.0 31.1 L587.8 31.0 L589.6 30.9 L591.4 30.8 L593.1 30.7 L594.9 30.6 L596.7 30.5 L598.5 30.5 L600.3 30.4 L602.1 30.3 L603.9 30.2 L605.7 30.1 L607.5 30.0 L609.3 29.9 L611.0 29.8 L612.8 29.8 L614.6 29.7 L616.4 29.6 L618.2 29.5 L620.0 29.4 L621.8 29.3 L623.6 29.2 L625.4 29.1 L627.1 29.0 L628.9 28.9 L630.7 28.8 L632.5 28.6 L634.3 28.5 L636.1 28.4 L637.9 28.3 L639.6 28.1 L641.4 28.0 L643.2 27.9 L645.0 27.7 L646.8 27.6 L648.6 27.4 L650.4 27.3 L652.1 27.1 L653.9 27.0 L655.7 26.8 L657.5 26.6 L659.3 26.5 L661.1 26.3 L662.8 26.1 L664.6 25.9 L666.4 25.8 L668.2 25.6 L670.0 25.4 L671.8 25.3 L673.5 25.1 L675.3 24.9 L677.1 24.8 L678.9 24.6 L680.7 24.4 L682.4 24.3 L684.2 24.1 L686.0 24.0 L687.8 23.8 L689.6 23.7 L691.4 23.5 L693.2 23.4 L694.9 23.3 L696.7 23.2 L698.5 23.0 L700.3 22.9 L702.1 22.8 L703.9 22.7 L705.6 22.6 L707.4 22.6 L709.2 22.5 L711.0 22.4 L712.8 22.4 L714.6 22.3 L716.4 22.3 L718.2 22.3 L720.0 22.3" fill="none" stroke="#B177DE" stroke-width="6.8" stroke-linejoin="round" stroke-linecap="butt"/>
<path d="M184.0 959.4 L186.0 959.0 L188.1 958.7 L190.2 958.3 L192.2 958.0 L194.3 957.6 L196.4 957.3 L198.5 957.0 L200.6 956.6 L202.8 956.2 L204.9 955.9 L207.0 955.5 L209.1 955.1 L211.3 954.6 L213.4 954.2 L215.5 953.7 L217.6 953.2 L219.7 952.7 L221.7 952.1 L223.8 951.5 L225.8 950.8 L227.8 950.1 L229.8 949.4 L231.8 948.6 L233.8 947.7 L235.7 946.8 L237.6 945.9 L239.5 944.9 L241.3 943.8 L243.1 942.7 L244.9 941.6 L246.7 940.4 L248.5 939.2 L250.2 938.0 L251.9 936.7 L253.5 935.3 L255.2 934.0 L256.8 932.6 L258.3 931.1 L259.9 929.7 L261.4 928.2 L262.9 926.7 L264.3 925.1 L265.7 923.6 L267.1 922.0 L268.5 920.4 L269.8 918.7 L271.1 917.1 L272.4 915.4 L273.6 913.7 L274.8 912.0 L276.0 910.2 L277.1 908.5 L278.3 906.7 L279.4 904.9 L280.4 903.1 L281.5 901.3 L282.5 899.5 L283.5 897.6 L284.4 895.8 L285.4 893.9 L286.3 892.0 L287.2 890.1 L288.1 888.2 L289.0 886.3 L289.8 884.3 L290.6 882.4 L291.4 880.4 L292.2 878.5 L293.0 876.5 L293.7 874.5 L294.5 872.5 L295.2 870.5 L295.9 868.5 L296.6 866.4 L297.3 864.4 L297.9 862.4 L298.6 860.3 L299.2 858.3 L299.9 856.3 L300.5 854.2 L301.1 852.1 L301.7 850.1 L302.3 848.0 L302.9 845.9 L303.5 843.9 L304.1 841.8 L304.6 839.7 L305.2 837.7 L305.8 835.6 L306.3 833.5 L306.9 831.4 L307.4 829.4 L308.0 827.3 L308.5 825.2 L309.1 823.2 L309.6 821.1 L310.1 819.0 L310.7 816.9 L311.2 814.9 L311.7 812.8 L312.2 810.7 L312.7 808.6 L313.2 806.6 L313.7 804.5 L314.3 802.4 L314.7 800.3 L315.2 798.2 L315.7 796.2 L316.2 794.1 L316.7 792.0 L317.2 789.9 L317.7 787.9 L318.1 785.8 L318.6 783.7 L319.1 781.6 L319.6 779.5 L320.0 777.5 L320.5 775.4 L320.9 773.3 L321.4 771.2 L321.8 769.1 L322.3 767.1 L322.7 765.0 L323.2 762.9 L323.6 760.8 L324.0 758.7 L324.5 756.6 L324.9 754.6 L325.3 752.5 L325.8 750.4 L326.2 748.3 L326.6 746.2 L327.0 744.2 L327.4 742.1 L327.9 740.0 L328.3 737.9 L328.7 735.8 L329.1 733.7 L329.5 731.6 L329.9 729.6 L330.3 727.5 L330.7 725.4 L331.1 723.3 L331.5 721.2 L331.9 719.1 L332.2 717.0 L332.6 714.9 L333.0 712.9 L333.4 710.8 L333.8 708.7 L334.2 706.6 L334.5 704.5 L334.9 702.4 L335.3 700.3 L335.7 698.2 L336.0 696.1 L336.4 694.1 L336.8 692.0 L337.1 689.9 L337.5 687.8 L337.8 685.7 L338.2 683.6 L338.6 681.5 L338.9 679.4 L339.3 677.3 L339.6 675.2 L340.0 673.1 L340.3 671.0 L340.7 669.0 L341.0 666.9 L341.4 664.8 L341.7 662.7 L342.1 660.6 L342.4 658.5 L342.8 656.4 L343.1 654.3 L343.5 652.2 L343.8 650.1 L344.2 648.0 L344.5 645.9 L344.8 643.8 L345.2 641.7 L345.5 639.6 L345.9 637.5 L346.2 635.4 L346.5 633.3 L346.9 631.2 L347.2 629.1 L347.5 627.0 L347.9 624.9 L348.2 622.8 L348.5 620.7 L348.9 618.6 L349.2 616.5 L349.5 614.4 L349.9 612.3 L350.2 610.2 L350.5 608.1 L350.8 606.0 L351.2 603.9 L351.5 601.8 L351.8 599.7 L352.2 597.6 L352.5 595.5 L352.8 593.4 L353.1 591.3 L353.5 589.2 L353.8 587.1 L354.1 585.0 L354.4 582.9 L354.7 580.8 L355.1 578.7 L355.4 576.6 L355.7 574.5 L356.0 572.4 L356.4 570.3 L356.7 568.2 L357.0 566.1 L357.3 564.0 L357.6 561.9 L358.0 559.8 L358.3 557.7 L358.6 555.6 L358.9 553.5 L359.3 551.4 L359.6 549.3 L359.9 547.1 L360.2 545.0 L360.5 542.9 L360.9 540.8 L361.2 538.7 L361.5 536.6 L361.8 534.5 L362.1 532.4 L362.5 530.3 L362.8 528.2 L363.1 526.1 L363.4 524.0 L363.7 521.9 L364.1 519.8 L364.4 517.7 L364.7 515.6 L365.0 513.5 L365.4 511.4 L365.7 509.3 L366.0 507.2 L366.3 505.1 L366.7 503.0 L367.0 500.9 L367.3 498.8 L367.6 496.6 L368.0 494.5 L368.3 492.4 L368.6 490.3 L368.9 488.2 L369.3 486.1 L369.6 484.0 L369.9 481.9 L370.2 479.8 L370.6 477.7 L370.9 475.6 L371.2 473.5 L371.6 471.4 L371.9 469.3 L372.2 467.2 L372.6 465.1 L372.9 463.0 L373.2 460.9 L373.6 458.8 L373.9 456.7 L374.2 454.6 L374.6 452.5 L374.9 450.4 L375.2 448.3 L375.6 446.2 L375.9 444.1 L376.3 442.0 L376.6 439.9 L376.9 437.8 L377.3 435.7 L377.6 433.6 L378.0 431.5 L378.3 429.4 L378.7 427.3 L379.0 425.2 L379.4 423.1 L379.7 421.0 L380.1 418.9 L380.4 416.8 L380.8 414.7 L381.1 412.6 L381.5 410.5 L381.8 408.4 L382.2 406.3 L382.5 404.2 L382.9 402.1 L383.3 400.0 L383.6 397.9 L384.0 395.8 L384.4 393.7 L384.7 391.6 L385.1 389.5 L385.5 387.4 L385.8 385.3 L386.2 383.2 L386.6 381.1 L386.9 379.0 L387.3 376.9 L387.7 374.8 L388.1 372.7 L388.4 370.7 L388.8 368.6 L389.2 366.5 L389.6 364.4 L390.0 362.3 L390.4 360.2 L390.7 358.1 L391.1 356.0 L391.5 353.9 L391.9 351.8 L392.3 349.7 L392.7 347.6 L393.1 345.6 L393.5 343.5 L393.9 341.4 L394.3 339.3 L394.7 337.2 L395.1 335.1 L395.5 333.0 L395.9 330.9 L396.3 328.9 L396.7 326.8 L397.1 324.7 L397.6 322.6 L398.0 320.5 L398.4 318.4 L398.8 316.4 L399.2 314.3 L399.7 312.2 L400.1 310.1 L400.5 308.0 L400.9 305.9 L401.4 303.9 L401.8 301.8 L402.2 299.7 L402.7 297.6 L403.1 295.5 L403.6 293.5 L404.0 291.4 L404.5 289.3 L404.9 287.2 L405.4 285.2 L405.8 283.1 L406.3 281.0 L406.7 278.9 L407.2 276.9 L407.6 274.8 L408.1 272.7 L408.6 270.6 L409.0 268.6 L409.5 266.5 L410.0 264.4 L410.5 262.4 L411.0 260.3 L411.4 258.2 L411.9 256.2 L412.4 254.1 L412.9 252.0 L413.4 250.0 L413.9 247.9 L414.4 245.8 L414.9 243.8 L415.5 241.7 L416.0 239.6 L416.5 237.6 L417.0 235.5 L417.6 233.5 L418.1 231.4 L418.7 229.4 L419.2 227.3 L419.8 225.3 L420.3 223.2 L420.9 221.2 L421.5 219.1 L422.1 217.1 L422.6 215.0 L423.2 213.0 L423.8 210.9 L424.4 208.9 L425.0 206.8 L425.6 204.8 L426.3 202.8 L426.9 200.7 L427.5 198.7 L428.2 196.7 L428.8 194.6 L429.5 192.6 L430.1 190.6 L430.8 188.5 L431.5 186.5 L432.1 184.5 L432.8 182.5 L433.5 180.5 L434.2 178.4 L435.0 176.4 L435.7 174.4 L436.4 172.4 L437.2 170.4 L437.9 168.4 L438.7 166.5 L439.5 164.5 L440.3 162.5 L441.1 160.5 L441.9 158.6 L442.7 156.6 L443.6 154.6 L444.5 152.7 L445.3 150.8 L446.2 148.8 L447.1 146.9 L448.0 145.0 L449.0 143.1 L449.9 141.2 L450.9 139.3 L451.8 137.4 L452.8 135.5 L453.8 133.7 L454.9 131.8 L455.9 130.0 L457.0 128.1 L458.1 126.3 L459.2 124.5 L460.3 122.7 L461.4 120.9 L462.6 119.1 L463.8 117.3 L465.0 115.6 L466.2 113.8 L467.4 112.1 L468.7 110.4 L470.0 108.7 L471.3 107.0 L472.6 105.3 L473.9 103.6 L475.3 102.0 L476.7 100.4 L478.1 98.8 L479.5 97.2 L481.0 95.6 L482.5 94.1 L484.0 92.6 L485.5 91.1 L487.1 89.7 L488.6 88.2 L490.2 86.8 L491.8 85.5 L493.5 84.1 L495.1 82.8 L496.8 81.6 L498.5 80.3 L500.3 79.1 L502.0 77.9 L503.8 76.8 L505.6 75.7 L507.4 74.7 L509.3 73.6 L511.1 72.6 L513.0 71.7 L514.9 70.7 L516.8 69.8 L518.8 68.9 L520.7 68.1 L522.7 67.3 L524.6 66.5 L526.6 65.7 L528.6 64.9 L530.6 64.2 L532.6 63.5 L534.7 62.8 L536.7 62.2 L538.7 61.5 L540.8 60.9 L542.8 60.3 L544.9 59.7 L546.9 59.1 L549.0 58.5 L551.1 58.0 L553.1 57.5 L555.2 56.9 L557.3 56.4 L559.3 55.9 L561.4 55.4 L563.5 55.0 L565.5 54.5 L567.6 54.1 L569.7 53.6 L571.8 53.2 L573.9 52.8 L576.0 52.4 L578.1 52.0 L580.1 51.6 L582.2 51.3 L584.3 50.9 L586.4 50.6 L588.5 50.2 L590.6 49.9 L592.7 49.5 L594.8 49.2 L596.9 48.9 L599.0 48.6 L601.1 48.3 L603.2 48.0 L605.3 47.7 L607.5 47.5 L609.6 47.2 L611.7 46.9 L613.8 46.6 L615.9 46.4 L618.0 46.1 L620.1 45.9 L622.2 45.6 L624.3 45.4 L626.5 45.1 L628.6 44.9 L630.7 44.7 L632.8 44.4 L634.9 44.2 L637.0 44.0 L639.1 43.7 L641.3 43.5 L643.4 43.3 L645.5 43.0 L647.6 42.8 L649.7 42.6 L651.8 42.4 L654.0 42.1 L656.1 41.9 L658.2 41.7 L660.3 41.5 L662.4 41.3 L664.5 41.1 L666.7 40.8 L668.8 40.6 L670.9 40.4 L673.0 40.2 L675.1 40.0 L677.2 39.8 L679.4 39.6 L681.5 39.4 L683.6 39.2 L685.7 39.0 L687.8 38.8 L689.9 38.6 L692.1 38.4 L694.2 38.2 L696.3 38.0 L698.4 37.8 L700.5 37.6 L702.7 37.4 L704.8 37.2 L706.9 37.0 L709.0 36.9 L711.1 36.7 L713.3 36.5 L715.4 36.3 L717.5 36.1 L719.6 35.9 L721.7 35.8 L723.8 35.6 L726.0 35.4 L728.1 35.2 L730.2 35.1 L732.3 34.9 L734.4 34.7 L736.6 34.5 L738.7 34.4 L740.8 34.2 L742.9 34.0 L745.0 33.9 L747.2 33.7 L749.3 33.6 L751.4 33.4 L753.5 33.2 L755.7 33.1 L757.8 32.9 L759.9 32.8 L762.0 32.6 L764.1 32.5 L766.3 32.3 L768.4 32.2 L770.5 32.0 L772.6 31.9 L774.7 31.7 L776.9 31.6 L779.0 31.4 L781.1 31.3 L783.2 31.2 L785.4 31.0 L787.5 30.9 L789.6 30.7 L791.7 30.6 L793.8 30.5 L796.0 30.3 L798.1 30.2 L800.2 30.1 L802.3 30.0 L804.5 29.8 L806.6 29.7 L808.7 29.6 L810.8 29.5 L812.9 29.3 L815.1 29.2 L817.2 29.1 L819.3 29.0 L821.4 28.9 L823.6 28.7 L825.7 28.6 L827.8 28.5 L829.9 28.4 L832.1 28.3 L834.2 28.2 L836.3 28.1 L838.4 28.0 L840.6 27.9 L842.7 27.8 L844.8 27.7 L846.9 27.5 L849.1 27.4 L851.2 27.3 L853.3 27.2 L855.4 27.2 L857.6 27.1 L859.7 27.0 L861.8 26.9 L863.9 26.8 L866.0 26.7 L868.2 26.6 L870.3 26.5 L872.4 26.4 L874.5 26.3 L876.7 26.3 L878.8 26.2 L880.9 26.1 L883.1 26.0 L885.2 25.9 L887.3 25.8 L889.4 25.8 L891.6 25.7 L893.7 25.6 L895.8 25.5 L897.9 25.5 L900.1 25.4 L902.2 25.3 L904.3 25.3 L906.4 25.2 L908.6 25.1 L910.7 25.1 L912.8 25.0 L914.9 24.9 L917.1 24.9 L919.2 24.8 L921.3 24.8 L923.4 24.7 L925.6 24.6 L927.7 24.6 L929.8 24.5 L931.9 24.5 L934.1 24.4 L936.2 24.4 L938.3 24.3 L940.5 24.3 L942.6 24.2 L944.7 24.2 L946.8 24.1 L949.0 24.1 L951.1 24.1 L953.2 24.0 L955.3 24.0 L957.5 23.9 L959.6 23.9 L961.7 23.9 L963.8 23.8 L966.0 23.8 L968.1 23.8 L970.2 23.7 L972.4 23.7 L974.5 23.7 L976.6 23.6 L978.7 23.6 L980.9 23.6 L983.0 23.6 L985.1 23.5 L987.2 23.5 L989.4 23.5 L991.5 23.5 L993.6 23.4 L995.8 23.4 L997.9 23.4 L1000.0 23.4" fill="none" stroke="#CC9900" stroke-width="6.8" stroke-linejoin="round" stroke-linecap="butt"/>
<path d="M184.5 959.0 L186.2 958.8 L188.0 958.6 L189.8 958.4 L191.7 958.2 L193.5 958.0 L195.3 957.8 L197.2 957.6 L199.1 957.4 L201.0 957.2 L202.9 957.0 L204.8 956.7 L206.7 956.5 L208.6 956.2 L210.6 955.9 L212.5 955.7 L214.5 955.4 L216.4 955.1 L218.4 954.7 L220.3 954.4 L222.3 954.1 L224.3 953.7 L226.2 953.3 L228.2 953.0 L230.1 952.5 L232.1 952.1 L234.0 951.7 L236.0 951.2 L237.9 950.7 L239.9 950.2 L241.8 949.7 L243.7 949.2 L245.6 948.6 L247.5 948.0 L249.4 947.4 L251.3 946.8 L253.2 946.2 L255.0 945.5 L256.8 944.8 L258.7 944.0 L260.5 943.3 L262.3 942.5 L264.0 941.7 L265.8 940.8 L267.5 940.0 L269.2 939.1 L270.9 938.2 L272.6 937.2 L274.2 936.2 L275.8 935.2 L277.4 934.1 L279.0 933.1 L280.6 931.9 L282.1 930.8 L283.6 929.6 L285.1 928.5 L286.6 927.2 L288.0 926.0 L289.5 924.7 L290.9 923.5 L292.3 922.1 L293.6 920.8 L295.0 919.5 L296.3 918.1 L297.6 916.7 L298.9 915.3 L300.2 913.8 L301.5 912.4 L302.7 910.9 L304.0 909.4 L305.2 907.9 L306.4 906.4 L307.6 904.8 L308.8 903.3 L309.9 901.7 L311.1 900.1 L312.2 898.5 L313.3 896.9 L314.4 895.3 L315.5 893.7 L316.6 892.0 L317.6 890.4 L318.7 888.7 L319.7 887.0 L320.7 885.4 L321.7 883.7 L322.7 882.0 L323.7 880.3 L324.7 878.6 L325.7 876.9 L326.6 875.2 L327.6 873.4 L328.5 871.7 L329.5 870.0 L330.4 868.3 L331.3 866.5 L332.2 864.8 L333.1 863.0 L334.0 861.3 L334.8 859.6 L335.7 857.8 L336.6 856.0 L337.4 854.3 L338.2 852.5 L339.1 850.8 L339.9 849.0 L340.7 847.2 L341.5 845.4 L342.3 843.7 L343.1 841.9 L343.9 840.1 L344.7 838.3 L345.4 836.5 L346.2 834.7 L346.9 832.9 L347.7 831.1 L348.4 829.3 L349.1 827.5 L349.8 825.7 L350.6 823.9 L351.3 822.1 L352.0 820.3 L352.6 818.5 L353.3 816.6 L354.0 814.8 L354.7 813.0 L355.3 811.2 L356.0 809.3 L356.6 807.5 L357.3 805.7 L357.9 803.8 L358.6 802.0 L359.2 800.1 L359.8 798.3 L360.4 796.5 L361.0 794.6 L361.6 792.8 L362.2 790.9 L362.8 789.0 L363.4 787.2 L364.0 785.3 L364.6 783.5 L365.1 781.6 L365.7 779.7 L366.3 777.9 L366.8 776.0 L367.4 774.1 L367.9 772.3 L368.4 770.4 L369.0 768.5 L369.5 766.7 L370.0 764.8 L370.6 762.9 L371.1 761.0 L371.6 759.1 L372.1 757.3 L372.6 755.4 L373.1 753.5 L373.6 751.6 L374.1 749.7 L374.6 747.8 L375.1 746.0 L375.6 744.1 L376.1 742.2 L376.5 740.3 L377.0 738.4 L377.5 736.5 L378.0 734.6 L378.4 732.7 L378.9 730.8 L379.3 728.9 L379.8 727.0 L380.3 725.1 L380.7 723.2 L381.2 721.3 L381.6 719.4 L382.1 717.5 L382.5 715.6 L383.0 713.7 L383.4 711.9 L383.8 710.0 L384.3 708.1 L384.7 706.2 L385.2 704.3 L385.6 702.4 L386.0 700.5 L386.4 698.6 L386.9 696.7 L387.3 694.8 L387.7 692.8 L388.1 690.9 L388.6 689.0 L389.0 687.1 L389.4 685.2 L389.8 683.3 L390.2 681.4 L390.6 679.5 L391.1 677.6 L391.5 675.7 L391.9 673.8 L392.3 671.9 L392.7 670.0 L393.1 668.1 L393.5 666.2 L393.9 664.3 L394.3 662.4 L394.7 660.5 L395.1 658.6 L395.5 656.7 L395.9 654.8 L396.3 652.9 L396.7 650.9 L397.0 649.0 L397.4 647.1 L397.8 645.2 L398.2 643.3 L398.6 641.4 L399.0 639.5 L399.4 637.6 L399.7 635.7 L400.1 633.8 L400.5 631.9 L400.9 630.0 L401.3 628.1 L401.6 626.1 L402.0 624.2 L402.4 622.3 L402.8 620.4 L403.1 618.5 L403.5 616.6 L403.9 614.7 L404.2 612.8 L404.6 610.9 L405.0 608.9 L405.4 607.0 L405.7 605.1 L406.1 603.2 L406.5 601.3 L406.8 599.4 L407.2 597.5 L407.5 595.6 L407.9 593.7 L408.3 591.7 L408.6 589.8 L409.0 587.9 L409.4 586.0 L409.7 584.1 L410.1 582.2 L410.4 580.3 L410.8 578.4 L411.1 576.4 L411.5 574.5 L411.9 572.6 L412.2 570.7 L412.6 568.8 L412.9 566.9 L413.3 565.0 L413.6 563.0 L414.0 561.1 L414.4 559.2 L414.7 557.3 L415.1 555.4 L415.4 553.5 L415.8 551.6 L416.1 549.7 L416.5 547.7 L416.8 545.8 L417.2 543.9 L417.5 542.0 L417.9 540.1 L418.2 538.2 L418.6 536.3 L418.9 534.3 L419.3 532.4 L419.6 530.5 L420.0 528.6 L420.4 526.7 L420.7 524.8 L421.1 522.8 L421.4 520.9 L421.8 519.0 L422.1 517.1 L422.5 515.2 L422.8 513.3 L423.2 511.4 L423.5 509.4 L423.9 507.5 L424.2 505.6 L424.5 503.7 L424.9 501.8 L425.2 499.9 L425.6 497.9 L425.9 496.0 L426.3 494.1 L426.6 492.2 L427.0 490.3 L427.3 488.4 L427.7 486.5 L428.0 484.5 L428.4 482.6 L428.7 480.7 L429.1 478.8 L429.4 476.9 L429.7 475.0 L430.1 473.0 L430.4 471.1 L430.8 469.2 L431.1 467.3 L431.5 465.4 L431.8 463.5 L432.1 461.5 L432.5 459.6 L432.8 457.7 L433.2 455.8 L433.5 453.9 L433.9 451.9 L434.2 450.0 L434.5 448.1 L434.9 446.2 L435.2 444.3 L435.6 442.4 L435.9 440.4 L436.2 438.5 L436.6 436.6 L436.9 434.7 L437.2 432.8 L437.6 430.9 L437.9 428.9 L438.3 427.0 L438.6 425.1 L438.9 423.2 L439.3 421.3 L439.6 419.3 L439.9 417.4 L440.3 415.5 L440.6 413.6 L440.9 411.7 L441.3 409.7 L441.6 407.8 L441.9 405.9 L442.3 404.0 L442.6 402.1 L442.9 400.1 L443.3 398.2 L443.6 396.3 L443.9 394.4 L444.2 392.5 L444.6 390.5 L444.9 388.6 L445.2 386.7 L445.6 384.8 L445.9 382.9 L446.2 380.9 L446.5 379.0 L446.9 377.1 L447.2 375.2 L447.5 373.3 L447.8 371.3 L448.2 369.4 L448.5 367.5 L448.8 365.6 L449.1 363.7 L449.5 361.7 L449.8 359.8 L450.1 357.9 L450.4 356.0 L450.8 354.1 L451.1 352.1 L451.4 350.2 L451.7 348.3 L452.1 346.4 L452.4 344.4 L452.7 342.5 L453.1 340.6 L453.4 338.7 L453.7 336.8 L454.0 334.8 L454.4 332.9 L454.7 331.0 L455.0 329.1 L455.4 327.2 L455.7 325.3 L456.0 323.3 L456.4 321.4 L456.7 319.5 L457.0 317.6 L457.4 315.7 L457.7 313.7 L458.0 311.8 L458.4 309.9 L458.7 308.0 L459.1 306.1 L459.4 304.2 L459.8 302.2 L460.1 300.3 L460.4 298.4 L460.8 296.5 L461.1 294.6 L461.5 292.7 L461.8 290.7 L462.2 288.8 L462.6 286.9 L462.9 285.0 L463.3 283.1 L463.6 281.2 L464.0 279.3 L464.3 277.4 L464.7 275.4 L465.1 273.5 L465.4 271.6 L465.8 269.7 L466.2 267.8 L466.6 265.9 L466.9 264.0 L467.3 262.1 L467.7 260.2 L468.1 258.3 L468.5 256.3 L468.8 254.4 L469.2 252.5 L469.6 250.6 L470.0 248.7 L470.4 246.8 L470.8 244.9 L471.2 243.0 L471.6 241.1 L472.0 239.2 L472.4 237.3 L472.8 235.4 L473.2 233.5 L473.6 231.6 L474.1 229.7 L474.5 227.8 L474.9 225.9 L475.3 224.0 L475.7 222.1 L476.2 220.2 L476.6 218.3 L477.0 216.4 L477.5 214.5 L477.9 212.6 L478.4 210.7 L478.8 208.8 L479.3 207.0 L479.7 205.1 L480.2 203.2 L480.6 201.3 L481.1 199.4 L481.6 197.5 L482.0 195.6 L482.5 193.7 L483.0 191.9 L483.5 190.0 L484.0 188.1 L484.5 186.2 L485.0 184.3 L485.5 182.4 L486.0 180.6 L486.5 178.7 L487.0 176.8 L487.5 174.9 L488.1 173.1 L488.6 171.2 L489.1 169.3 L489.7 167.5 L490.2 165.6 L490.8 163.7 L491.4 161.9 L492.0 160.0 L492.5 158.1 L493.1 156.3 L493.7 154.4 L494.3 152.6 L494.9 150.7 L495.5 148.9 L496.2 147.0 L496.8 145.2 L497.4 143.3 L498.1 141.5 L498.7 139.6 L499.4 137.8 L500.1 135.9 L500.7 134.1 L501.4 132.3 L502.1 130.4 L502.8 128.6 L503.5 126.8 L504.3 124.9 L505.0 123.1 L505.7 121.3 L506.5 119.5 L507.3 117.7 L508.1 115.9 L508.9 114.1 L509.7 112.4 L510.6 110.6 L511.4 108.9 L512.3 107.1 L513.2 105.4 L514.2 103.7 L515.1 102.0 L516.1 100.3 L517.1 98.7 L518.1 97.0 L519.1 95.4 L520.2 93.8 L521.3 92.2 L522.4 90.6 L523.6 89.0 L524.8 87.5 L526.0 86.0 L527.2 84.5 L528.4 83.0 L529.7 81.6 L531.0 80.2 L532.3 78.8 L533.7 77.4 L535.1 76.0 L536.5 74.7 L537.9 73.4 L539.3 72.1 L540.8 70.9 L542.3 69.7 L543.8 68.5 L545.4 67.3 L546.9 66.2 L548.5 65.1 L550.1 64.0 L551.7 63.0 L553.4 62.0 L555.1 61.0 L556.7 60.0 L558.4 59.1 L560.2 58.2 L561.9 57.3 L563.7 56.5 L565.4 55.7 L567.2 54.9 L569.0 54.1 L570.8 53.3 L572.6 52.6 L574.5 51.9 L576.3 51.2 L578.1 50.6 L580.0 49.9 L581.9 49.3 L583.7 48.7 L585.6 48.1 L587.5 47.6 L589.4 47.0 L591.2 46.5 L593.1 46.0 L595.0 45.5 L596.9 45.0 L598.8 44.5 L600.7 44.1 L602.6 43.6 L604.5 43.2 L606.4 42.8 L608.3 42.4 L610.3 42.0 L612.2 41.7 L614.1 41.3 L616.0 40.9 L617.9 40.6 L619.9 40.3 L621.8 40.0 L623.7 39.6 L625.6 39.3 L627.6 39.0 L629.5 38.8 L631.4 38.5 L633.3 38.2 L635.3 37.9 L637.2 37.7 L639.1 37.4 L641.1 37.2 L643.0 36.9 L644.9 36.7 L646.9 36.5 L648.8 36.2 L650.7 36.0 L652.7 35.8 L654.6 35.6 L656.5 35.4 L658.5 35.2 L660.4 35.0 L662.3 34.8 L664.3 34.7 L666.2 34.5 L668.1 34.3 L670.1 34.1 L672.0 34.0 L674.0 33.8 L675.9 33.6 L677.8 33.5 L679.8 33.3 L681.7 33.2 L683.6 33.0 L685.6 32.9 L687.5 32.8 L689.5 32.6 L691.4 32.5 L693.3 32.3 L695.3 32.2 L697.2 32.1 L699.2 31.9 L701.1 31.8 L703.1 31.7 L705.0 31.6 L706.9 31.4 L708.9 31.3 L710.8 31.2 L712.8 31.1 L714.7 30.9 L716.7 30.8 L718.6 30.7 L720.5 30.6 L722.5 30.4 L724.4 30.3 L726.4 30.2 L728.3 30.1 L730.3 29.9 L732.2 29.8 L734.1 29.7 L736.1 29.6 L738.0 29.5 L740.0 29.3 L741.9 29.2 L743.9 29.1 L745.8 29.0 L747.7 28.8 L749.7 28.7 L751.6 28.6 L753.6 28.5 L755.5 28.4 L757.5 28.3 L759.4 28.1 L761.4 28.0 L763.3 27.9 L765.2 27.8 L767.2 27.7 L769.1 27.6 L771.1 27.4 L773.0 27.3 L775.0 27.2 L776.9 27.1 L778.9 27.0 L780.8 26.9 L782.7 26.8 L784.7 26.7 L786.6 26.6 L788.6 26.5 L790.5 26.3 L792.5 26.2 L794.4 26.1 L796.4 26.0 L798.3 25.9 L800.2 25.8 L802.2 25.7 L804.1 25.6 L806.1 25.5 L808.0 25.4 L810.0 25.3 L811.9 25.2 L813.9 25.1 L815.8 25.0 L817.8 24.9 L819.7 24.8 L821.6 24.7 L823.6 24.6 L825.5 24.5 L827.5 24.4 L829.4 24.4 L831.4 24.3 L833.3 24.2 L835.3 24.1 L837.2 24.0 L839.1 23.9 L841.1 23.8 L843.0 23.7 L845.0 23.6 L846.9 23.6 L848.9 23.5 L850.8 23.4 L852.8 23.3 L854.7 23.2 L856.6 23.2 L858.6 23.1 L860.5 23.0 L862.5 22.9 L864.4 22.9 L866.4 22.8 L868.3 22.7 L870.3 22.7 L872.2 22.6 L874.1 22.5 L876.1 22.4 L878.0 22.4 L880.0 22.3" fill="none" stroke="#00CBCC" stroke-width="6.8" stroke-linejoin="round" stroke-linecap="butt"/>
</g>
<g id="axes">
<rect x="140.95" y="20.3" width="1169.0" height="6.5" fill="#000"/>
<rect x="140.95" y="956.1" width="1169.0" height="7.1" fill="#000"/>
<rect x="140.95" y="20.3" width="7.45" height="942.9" fill="#000"/>
<rect x="1303.05" y="20.3" width="6.9" height="942.9" fill="#000"/>
<line x1="144.7" y1="959.6" x2="144.7" y2="977.6" stroke="#000" stroke-width="7.0"/>
<text x="143.7" y="1021" text-anchor="middle" class="tk">0.0</text>
<line x1="289.9" y1="959.6" x2="289.9" y2="977.6" stroke="#000" stroke-width="7.0"/>
<text x="288.9" y="1021" text-anchor="middle" class="tk">0.5</text>
<line x1="435.1" y1="959.6" x2="435.1" y2="977.6" stroke="#000" stroke-width="7.0"/>
<text x="434.1" y="1021" text-anchor="middle" class="tk">1.0</text>
<line x1="580.3" y1="959.6" x2="580.3" y2="977.6" stroke="#000" stroke-width="7.0"/>
<text x="579.3" y="1021" text-anchor="middle" class="tk">1.5</text>
<line x1="725.5" y1="959.6" x2="725.5" y2="977.6" stroke="#000" stroke-width="7.0"/>
<text x="724.5" y="1021" text-anchor="middle" class="tk">2.0</text>
<line x1="870.8" y1="959.6" x2="870.8" y2="977.6" stroke="#000" stroke-width="7.0"/>
<text x="869.8" y="1021" text-anchor="middle" class="tk">2.5</text>
<line x1="1016.0" y1="959.6" x2="1016.0" y2="977.6" stroke="#000" stroke-width="7.0"/>
<text x="1015.0" y="1021" text-anchor="middle" class="tk">3.0</text>
<line x1="1161.2" y1="959.6" x2="1161.2" y2="977.6" stroke="#000" stroke-width="7.0"/>
<text x="1160.2" y="1021" text-anchor="middle" class="tk">3.5</text>
<line x1="1306.4" y1="959.6" x2="1306.4" y2="977.6" stroke="#000" stroke-width="7.0"/>
<text x="1305.4" y="1021" text-anchor="middle" class="tk">4.0</text>
<line x1="217.3" y1="959.6" x2="217.3" y2="968.6" stroke="#000" stroke-width="6.5"/>
<line x1="362.5" y1="959.6" x2="362.5" y2="968.6" stroke="#000" stroke-width="6.5"/>
<line x1="507.7" y1="959.6" x2="507.7" y2="968.6" stroke="#000" stroke-width="6.5"/>
<line x1="652.9" y1="959.6" x2="652.9" y2="968.6" stroke="#000" stroke-width="6.5"/>
<line x1="798.2" y1="959.6" x2="798.2" y2="968.6" stroke="#000" stroke-width="6.5"/>
<line x1="943.4" y1="959.6" x2="943.4" y2="968.6" stroke="#000" stroke-width="6.5"/>
<line x1="1088.6" y1="959.6" x2="1088.6" y2="968.6" stroke="#000" stroke-width="6.5"/>
<line x1="1233.8" y1="959.6" x2="1233.8" y2="968.6" stroke="#000" stroke-width="6.5"/>
<line x1="144.7" y1="959.3" x2="124.9" y2="959.3" stroke="#000" stroke-width="6.7"/>
<text x="113" y="970.1" text-anchor="end" class="tk">0.0</text>
<line x1="144.7" y1="772.1" x2="124.9" y2="772.1" stroke="#000" stroke-width="6.7"/>
<text x="113" y="782.9" text-anchor="end" class="tk">0.2</text>
<line x1="144.7" y1="584.9" x2="124.9" y2="584.9" stroke="#000" stroke-width="6.7"/>
<text x="113" y="595.7" text-anchor="end" class="tk">0.4</text>
<line x1="144.7" y1="397.8" x2="124.9" y2="397.8" stroke="#000" stroke-width="6.7"/>
<text x="113" y="408.6" text-anchor="end" class="tk">0.6</text>
<line x1="144.7" y1="210.6" x2="124.9" y2="210.6" stroke="#000" stroke-width="6.7"/>
<text x="113" y="221.4" text-anchor="end" class="tk">0.8</text>
<line x1="144.7" y1="23.4" x2="124.9" y2="23.4" stroke="#000" stroke-width="6.7"/>
<text x="113" y="34.2" text-anchor="end" class="tk">1.0</text>
<line x1="144.7" y1="865.1" x2="135.3" y2="865.1" stroke="#000" stroke-width="7.0"/>
<line x1="144.7" y1="677.9" x2="135.3" y2="677.9" stroke="#000" stroke-width="7.0"/>
<line x1="144.7" y1="490.8" x2="135.3" y2="490.8" stroke="#000" stroke-width="7.0"/>
<line x1="144.7" y1="303.6" x2="135.3" y2="303.6" stroke="#000" stroke-width="7.0"/>
<line x1="144.7" y1="116.4" x2="135.3" y2="116.4" stroke="#000" stroke-width="7.0"/>
</g>
<g id="legend">
<line x1="911.5" y1="549.9" x2="1018" y2="549.9" stroke="#515151" stroke-width="7" stroke-linecap="round"/>
<text x="1032" y="566.7" class="lg">PP</text>
<line x1="911.5" y1="610.4" x2="1018" y2="610.4" stroke="#F14040" stroke-width="7" stroke-linecap="round"/>
<text x="1032" y="627.2" class="lg">PP/CB/PG</text>
<line x1="911.5" y1="670.6" x2="1018" y2="670.6" stroke="#1A6FDF" stroke-width="7" stroke-linecap="round"/>
<text x="1032" y="687.4" class="lg">PP/CB/AG</text>
<line x1="911.5" y1="730.9" x2="1018" y2="730.9" stroke="#B177DE" stroke-width="7" stroke-linecap="round"/>
<text x="1032" y="747.3" class="lg">PP<tspan dy="13" class="sb">C</tspan></text>
<line x1="911.5" y1="802.4" x2="1018" y2="802.4" stroke="#CC9900" stroke-width="7" stroke-linecap="round"/>
<text x="1032" y="818.8" class="lg">PP<tspan dy="13" class="sb">C</tspan><tspan dy="-13">/CB/PG</tspan></text>
<line x1="911.5" y1="874.0" x2="1018" y2="874.0" stroke="#00CBCC" stroke-width="7" stroke-linecap="round"/>
<text x="1032" y="890.4" class="lg">PP<tspan dy="13" class="sb">C</tspan><tspan dy="-13">/CB/AG</tspan></text>
</g>
<text x="732" y="1093.5" text-anchor="middle" class="al">Time (min)</text>
<text transform="translate(43 499) rotate(-90)" text-anchor="middle" class="al">X (t)</text>
</svg>
</body></html>
